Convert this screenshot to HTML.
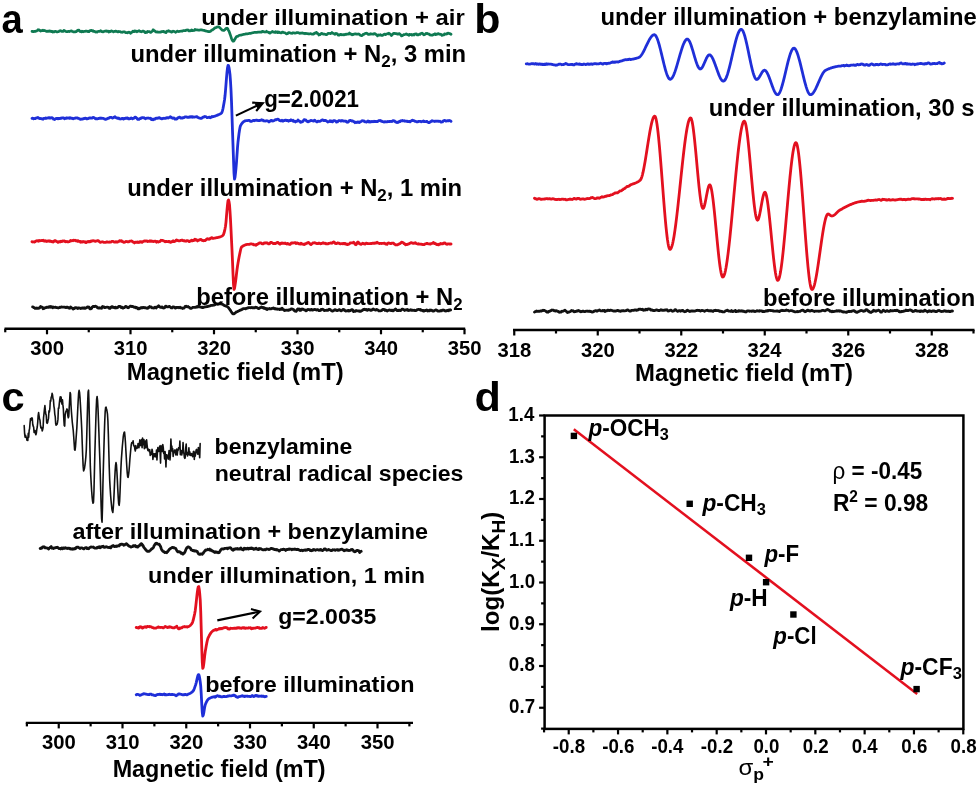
<!DOCTYPE html>
<html><head><meta charset="utf-8"><style>
html,body{margin:0;padding:0;background:#fff;}
svg{display:block;will-change:transform;}
text{font-family:"Liberation Sans",sans-serif;fill:#000;}
</style></head><body>
<svg width="980" height="787" viewBox="0 0 980 787">
<rect width="980" height="787" fill="#fff"/>
<text transform="translate(1.61,32.70) scale(0.9193,1)" fill="#000" xml:space="preserve"><tspan font-size="41.50" font-weight="bold">a</tspan></text>
<text transform="translate(474.25,33.00) scale(1.0347,1)" fill="#000" xml:space="preserve"><tspan font-size="41.50" font-weight="bold">b</tspan></text>
<text transform="translate(1.57,410.50) scale(1.0025,1)" fill="#000" xml:space="preserve"><tspan font-size="41.50" font-weight="bold">c</tspan></text>
<text transform="translate(474.48,410.50) scale(1.0395,1)" fill="#000" xml:space="preserve"><tspan font-size="41.50" font-weight="bold">d</tspan></text>
<line x1="4.50" y1="328.80" x2="465.20" y2="328.80" stroke="#000" stroke-width="2.4"/>
<line x1="5.25" y1="328.80" x2="5.25" y2="332.30" stroke="#000" stroke-width="2.2"/>
<line x1="47.00" y1="328.80" x2="47.00" y2="334.30" stroke="#000" stroke-width="2.2"/>
<line x1="88.75" y1="328.80" x2="88.75" y2="332.30" stroke="#000" stroke-width="2.2"/>
<line x1="130.50" y1="328.80" x2="130.50" y2="334.30" stroke="#000" stroke-width="2.2"/>
<line x1="172.25" y1="328.80" x2="172.25" y2="332.30" stroke="#000" stroke-width="2.2"/>
<line x1="214.00" y1="328.80" x2="214.00" y2="334.30" stroke="#000" stroke-width="2.2"/>
<line x1="255.75" y1="328.80" x2="255.75" y2="332.30" stroke="#000" stroke-width="2.2"/>
<line x1="297.50" y1="328.80" x2="297.50" y2="334.30" stroke="#000" stroke-width="2.2"/>
<line x1="339.25" y1="328.80" x2="339.25" y2="332.30" stroke="#000" stroke-width="2.2"/>
<line x1="381.00" y1="328.80" x2="381.00" y2="334.30" stroke="#000" stroke-width="2.2"/>
<line x1="422.75" y1="328.80" x2="422.75" y2="332.30" stroke="#000" stroke-width="2.2"/>
<line x1="464.50" y1="328.80" x2="464.50" y2="334.30" stroke="#000" stroke-width="2.2"/>
<text transform="translate(30.23,355.20) scale(0.9650,1)" fill="#000" xml:space="preserve"><tspan font-size="21.00" font-weight="bold">300</tspan></text>
<text transform="translate(113.73,355.20) scale(0.9650,1)" fill="#000" xml:space="preserve"><tspan font-size="21.00" font-weight="bold">310</tspan></text>
<text transform="translate(197.23,355.20) scale(0.9650,1)" fill="#000" xml:space="preserve"><tspan font-size="21.00" font-weight="bold">320</tspan></text>
<text transform="translate(280.73,355.20) scale(0.9650,1)" fill="#000" xml:space="preserve"><tspan font-size="21.00" font-weight="bold">330</tspan></text>
<text transform="translate(364.23,355.20) scale(0.9650,1)" fill="#000" xml:space="preserve"><tspan font-size="21.00" font-weight="bold">340</tspan></text>
<text transform="translate(447.73,355.20) scale(0.9650,1)" fill="#000" xml:space="preserve"><tspan font-size="21.00" font-weight="bold">350</tspan></text>
<text transform="translate(126.81,380.20) scale(0.9797,1)" fill="#000" xml:space="preserve"><tspan font-size="24.30" font-weight="bold">Magnetic field (mT)</tspan></text>
<path d="M32.00,31.36 L32.50,31.32 L33.00,31.68 L33.50,31.75 L34.00,31.43 L34.50,31.32 L35.00,31.46 L35.50,31.51 L36.00,31.07 L36.50,30.92 L37.00,30.67 L37.50,30.35 L38.00,29.70 L38.50,29.98 L39.00,29.77 L39.50,30.31 L40.00,30.67 L40.50,31.08 L41.00,30.50 L41.50,30.68 L42.00,30.60 L42.50,30.58 L43.00,30.24 L43.50,30.75 L44.00,30.63 L44.50,30.44 L45.00,30.67 L45.50,30.85 L46.00,30.96 L46.50,31.43 L47.00,31.48 L47.50,31.18 L48.00,31.41 L48.50,31.43 L49.00,30.89 L49.50,31.06 L50.00,31.43 L50.50,31.00 L51.00,31.20 L51.50,31.54 L52.00,31.36 L52.50,31.52 L53.00,32.10 L53.50,31.58 L54.00,31.56 L54.50,31.87 L55.00,31.31 L55.50,31.29 L56.00,31.58 L56.50,31.73 L57.00,31.94 L57.50,31.82 L58.00,31.70 L58.50,31.60 L59.00,31.46 L59.50,30.80 L60.00,30.82 L60.50,30.72 L61.00,31.06 L61.50,31.32 L62.00,31.29 L62.50,31.23 L63.00,31.45 L63.50,30.72 L64.00,30.31 L64.50,30.62 L65.00,31.14 L65.50,31.16 L66.00,31.58 L66.50,31.61 L67.00,31.57 L67.50,31.64 L68.00,31.36 L68.50,31.37 L69.00,31.55 L69.50,31.59 L70.00,31.16 L70.50,30.99 L71.00,31.06 L71.50,30.86 L72.00,31.19 L72.50,31.41 L73.00,31.69 L73.50,31.87 L74.00,31.90 L74.50,31.87 L75.00,31.71 L75.50,31.87 L76.00,31.38 L76.50,31.55 L77.00,30.87 L77.50,30.36 L78.00,30.14 L78.50,30.24 L79.00,30.20 L79.50,31.20 L80.00,31.51 L80.50,31.43 L81.00,31.71 L81.50,31.80 L82.00,31.19 L82.50,31.36 L83.00,31.70 L83.50,31.78 L84.00,31.40 L84.50,31.43 L85.00,31.50 L85.50,31.06 L86.00,31.00 L86.50,31.05 L87.00,31.32 L87.50,31.36 L88.00,31.66 L88.50,31.45 L89.00,31.64 L89.50,30.89 L90.00,30.56 L90.50,30.64 L91.00,30.25 L91.50,30.50 L92.00,30.57 L92.50,31.05 L93.00,30.75 L93.50,31.49 L94.00,31.31 L94.50,31.37 L95.00,31.50 L95.50,32.08 L96.00,31.87 L96.50,31.78 L97.00,32.13 L97.50,31.57 L98.00,31.49 L98.50,31.37 L99.00,31.43 L99.50,31.28 L100.00,31.37 L100.50,30.77 L101.00,31.23 L101.50,31.21 L102.00,31.66 L102.50,31.82 L103.00,31.98 L103.50,31.58 L104.00,31.48 L104.50,31.24 L105.00,31.15 L105.50,31.25 L106.00,30.99 L106.50,30.94 L107.00,31.36 L107.50,31.29 L108.00,31.10 L108.50,31.54 L109.00,32.10 L109.50,31.32 L110.00,31.45 L110.50,31.56 L111.00,31.03 L111.50,30.87 L112.00,31.23 L112.50,31.31 L113.00,31.28 L113.50,31.85 L114.00,31.53 L114.50,31.51 L115.00,31.22 L115.50,31.10 L116.00,31.33 L116.50,31.35 L117.00,31.46 L117.50,31.74 L118.00,31.94 L118.50,31.48 L119.00,31.77 L119.50,31.63 L120.00,31.60 L120.50,31.72 L121.00,32.15 L121.50,32.17 L122.00,32.35 L122.50,32.25 L123.00,31.90 L123.50,31.85 L124.00,31.93 L124.50,31.80 L125.00,32.08 L125.50,32.64 L126.00,32.61 L126.50,32.61 L127.00,32.53 L127.50,32.78 L128.00,32.27 L128.50,32.29 L129.00,32.18 L129.50,32.52 L130.00,32.62 L130.50,33.31 L131.00,32.81 L131.50,32.26 L132.00,32.25 L132.50,31.53 L133.00,31.15 L133.50,31.66 L134.00,31.67 L134.50,30.94 L135.00,31.26 L135.50,31.28 L136.00,31.01 L136.50,31.44 L137.00,31.76 L137.50,31.31 L138.00,31.26 L138.50,31.08 L139.00,30.66 L139.50,31.01 L140.00,31.38 L140.50,31.53 L141.00,31.53 L141.50,31.78 L142.00,31.40 L142.50,31.19 L143.00,31.14 L143.50,31.20 L144.00,31.45 L144.50,31.79 L145.00,32.53 L145.50,32.13 L146.00,32.56 L146.50,32.44 L147.00,32.36 L147.50,31.48 L148.00,31.71 L148.50,31.68 L149.00,31.68 L149.50,31.70 L150.00,32.00 L150.50,32.41 L151.00,32.21 L151.50,31.67 L152.00,31.48 L152.50,31.05 L153.00,29.93 L153.50,29.80 L154.00,30.69 L154.50,30.87 L155.00,31.06 L155.50,31.64 L156.00,32.05 L156.50,31.74 L157.00,31.73 L157.50,32.01 L158.00,32.24 L158.50,32.15 L159.00,32.24 L159.50,32.27 L160.00,32.01 L160.50,32.11 L161.00,31.72 L161.50,31.85 L162.00,31.45 L162.50,31.67 L163.00,31.52 L163.50,31.34 L164.00,31.49 L164.50,32.16 L165.00,32.06 L165.50,32.24 L166.00,32.65 L166.50,31.53 L167.00,31.21 L167.50,31.29 L168.00,31.10 L168.50,30.71 L169.00,31.28 L169.50,31.15 L170.00,31.45 L170.50,31.49 L171.00,31.74 L171.50,32.17 L172.00,32.05 L172.50,31.63 L173.00,31.06 L173.50,31.44 L174.00,31.27 L174.50,31.62 L175.00,31.86 L175.50,32.32 L176.00,31.96 L176.50,31.62 L177.00,31.32 L177.50,31.14 L178.00,31.46 L178.50,31.53 L179.00,31.55 L179.50,31.43 L180.00,31.23 L180.50,31.22 L181.00,31.19 L181.50,31.19 L182.00,31.22 L182.50,31.08 L183.00,30.63 L183.50,30.70 L184.00,30.55 L184.50,30.56 L185.00,30.75 L185.50,30.77 L186.00,30.12 L186.50,30.14 L187.00,29.95 L187.50,30.20 L188.00,29.96 L188.50,30.48 L189.00,30.90 L189.50,31.01 L190.00,30.61 L190.50,30.82 L191.00,30.64 L191.50,29.97 L192.00,30.12 L192.50,30.74 L193.00,30.58 L193.50,30.48 L194.00,30.42 L194.50,30.34 L195.00,29.47 L195.50,29.79 L196.00,29.86 L196.50,29.83 L197.00,29.85 L197.50,30.03 L198.00,30.10 L198.50,30.02 L199.00,30.22 L199.50,30.11 L200.00,29.95 L200.50,29.84 L201.00,29.84 L201.50,29.87 L202.00,30.05 L202.50,30.12 L203.00,30.28 L203.50,30.36 L204.00,30.41 L204.50,30.45 L205.00,30.68 L205.50,30.90 L206.00,31.05 L206.50,31.14 L207.00,31.28 L207.50,31.35 L208.00,31.44 L208.50,31.66 L209.00,31.73 L209.50,31.71 L210.00,31.49 L210.50,31.31 L211.00,30.78 L211.50,30.34 L212.00,30.07 L212.50,29.88 L213.00,29.45 L213.50,29.07 L214.00,28.75 L214.50,28.25 L215.00,27.87 L215.50,27.72 L216.00,27.58 L216.50,27.31 L217.00,27.10 L217.50,26.95 L218.00,26.76 L218.50,26.78 L219.00,27.08 L219.50,27.40 L220.00,27.87 L220.50,28.39 L221.00,29.00 L221.50,29.39 L222.00,29.92 L222.50,30.17 L223.00,30.33 L223.50,30.39 L224.00,30.37 L224.50,29.99 L225.00,29.60 L225.50,29.05 L226.00,28.55 L226.50,28.34 L227.00,28.22 L227.50,28.49 L228.00,29.31 L228.50,30.32 L229.00,31.24 L229.50,32.50 L230.00,33.94 L230.50,35.40 L231.00,36.91 L231.50,38.52 L232.00,39.77 L232.50,40.55 L233.00,41.17 L233.50,41.16 L234.00,40.69 L234.50,39.86 L235.00,39.09 L235.50,38.00 L236.00,37.35 L236.50,36.67 L237.00,36.55 L237.50,36.30 L238.00,36.19 L238.50,35.70 L239.00,35.52 L239.50,35.33 L240.00,35.16 L240.50,35.11 L241.00,35.15 L241.50,34.99 L242.00,34.78 L242.50,34.74 L243.00,34.55 L243.50,34.39 L244.00,34.31 L244.50,34.24 L245.00,34.12 L245.50,33.95 L246.00,33.92 L246.50,33.97 L247.00,33.80 L247.50,33.80 L248.00,33.77 L248.50,33.61 L249.00,33.50 L249.50,33.47 L250.00,33.46 L250.50,33.31 L251.00,33.28 L251.50,33.07 L252.00,32.92 L252.50,32.73 L253.00,32.67 L253.50,32.59 L254.00,32.52 L254.50,32.43 L255.00,32.34 L255.50,32.34 L256.00,32.35 L256.50,32.27 L257.00,32.34 L257.50,32.20 L258.00,32.24 L258.50,32.08 L259.00,32.00 L259.50,32.00 L260.00,32.21 L260.50,32.05 L261.00,32.05 L261.50,32.13 L262.00,31.45 L262.50,31.27 L263.00,31.46 L263.50,31.56 L264.00,31.90 L264.50,32.01 L265.00,32.03 L265.50,32.00 L266.00,31.88 L266.50,31.28 L267.00,31.95 L267.50,31.78 L268.00,32.10 L268.50,32.41 L269.00,32.93 L269.50,32.49 L270.00,33.06 L270.50,32.76 L271.00,32.39 L271.50,32.11 L272.00,31.78 L272.50,31.50 L273.00,31.99 L273.50,32.16 L274.00,32.08 L274.50,32.35 L275.00,32.53 L275.50,31.64 L276.00,32.03 L276.50,32.13 L277.00,32.51 L277.50,31.90 L278.00,32.57 L278.50,32.08 L279.00,32.12 L279.50,32.23 L280.00,32.73 L280.50,32.73 L281.00,32.91 L281.50,32.70 L282.00,32.27 L282.50,32.08 L283.00,32.19 L283.50,32.40 L284.00,32.62 L284.50,32.73 L285.00,32.75 L285.50,33.12 L286.00,33.63 L286.50,33.91 L287.00,33.75 L287.50,33.76 L288.00,33.31 L288.50,32.67 L289.00,32.71 L289.50,32.66 L290.00,32.85 L290.50,32.99 L291.00,33.26 L291.50,33.25 L292.00,33.35 L292.50,32.97 L293.00,32.96 L293.50,32.77 L294.00,32.89 L294.50,33.09 L295.00,33.00 L295.50,33.09 L296.00,32.91 L296.50,32.71 L297.00,32.64 L297.50,32.48 L298.00,32.49 L298.50,32.88 L299.00,33.01 L299.50,32.98 L300.00,33.42 L300.50,33.16 L301.00,33.06 L301.50,32.97 L302.00,33.10 L302.50,32.90 L303.00,33.21 L303.50,33.33 L304.00,33.44 L304.50,33.31 L305.00,33.76 L305.50,33.29 L306.00,33.37 L306.50,33.48 L307.00,33.67 L307.50,33.63 L308.00,33.89 L308.50,33.72 L309.00,33.82 L309.50,33.87 L310.00,33.83 L310.50,33.62 L311.00,33.82 L311.50,33.97 L312.00,34.12 L312.50,34.13 L313.00,34.13 L313.50,34.23 L314.00,33.91 L314.50,33.02 L315.00,33.06 L315.50,33.08 L316.00,32.52 L316.50,32.40 L317.00,33.37 L317.50,33.19 L318.00,33.64 L318.50,34.42 L319.00,34.98 L319.50,34.64 L320.00,34.68 L320.50,34.30 L321.00,33.69 L321.50,33.40 L322.00,33.53 L322.50,33.62 L323.00,34.20 L323.50,34.18 L324.00,34.07 L324.50,34.16 L325.00,34.28 L325.50,34.30 L326.00,34.61 L326.50,34.55 L327.00,34.46 L327.50,34.06 L328.00,33.38 L328.50,33.43 L329.00,33.50 L329.50,33.49 L330.00,33.32 L330.50,33.65 L331.00,33.35 L331.50,33.15 L332.00,32.51 L332.50,32.86 L333.00,33.18 L333.50,33.44 L334.00,33.51 L334.50,34.08 L335.00,34.36 L335.50,33.44 L336.00,33.31 L336.50,33.61 L337.00,33.79 L337.50,34.03 L338.00,35.02 L338.50,35.13 L339.00,35.08 L339.50,35.11 L340.00,34.55 L340.50,34.25 L341.00,34.41 L341.50,34.83 L342.00,34.59 L342.50,34.72 L343.00,34.79 L343.50,34.90 L344.00,34.40 L344.50,34.82 L345.00,34.59 L345.50,34.50 L346.00,34.11 L346.50,34.32 L347.00,34.22 L347.50,34.08 L348.00,33.90 L348.50,34.04 L349.00,33.68 L349.50,33.03 L350.00,33.68 L350.50,34.04 L351.00,34.08 L351.50,34.13 L352.00,34.78 L352.50,34.46 L353.00,34.62 L353.50,34.27 L354.00,34.17 L354.50,33.97 L355.00,33.85 L355.50,33.75 L356.00,34.05 L356.50,34.04 L357.00,34.01 L357.50,34.10 L358.00,34.16 L358.50,33.94 L359.00,34.07 L359.50,34.36 L360.00,35.01 L360.50,35.29 L361.00,35.47 L361.50,35.64 L362.00,35.72 L362.50,35.13 L363.00,34.38 L363.50,34.40 L364.00,34.46 L364.50,33.87 L365.00,33.48 L365.50,33.37 L366.00,33.51 L366.50,33.21 L367.00,33.39 L367.50,33.86 L368.00,34.38 L368.50,34.13 L369.00,34.45 L369.50,34.27 L370.00,34.12 L370.50,33.71 L371.00,34.09 L371.50,33.96 L372.00,34.00 L372.50,34.00 L373.00,34.21 L373.50,34.10 L374.00,33.71 L374.50,33.64 L375.00,33.63 L375.50,34.33 L376.00,34.40 L376.50,34.78 L377.00,35.22 L377.50,35.84 L378.00,35.14 L378.50,34.81 L379.00,35.15 L379.50,35.10 L380.00,34.75 L380.50,34.68 L381.00,35.26 L381.50,35.39 L382.00,35.41 L382.50,35.42 L383.00,35.04 L383.50,34.72 L384.00,34.24 L384.50,34.21 L385.00,34.21 L385.50,34.64 L386.00,34.05 L386.50,34.20 L387.00,33.90 L387.50,33.65 L388.00,33.59 L388.50,33.93 L389.00,33.26 L389.50,33.75 L390.00,33.90 L390.50,34.34 L391.00,34.93 L391.50,35.52 L392.00,34.76 L392.50,34.47 L393.00,33.89 L393.50,33.27 L394.00,33.28 L394.50,33.24 L395.00,33.55 L395.50,33.48 L396.00,33.68 L396.50,33.64 L397.00,34.07 L397.50,33.96 L398.00,34.21 L398.50,33.98 L399.00,33.59 L399.50,33.66 L400.00,34.15 L400.50,34.79 L401.00,35.28 L401.50,35.89 L402.00,35.73 L402.50,35.63 L403.00,35.11 L403.50,34.77 L404.00,34.52 L404.50,34.71 L405.00,34.24 L405.50,34.24 L406.00,33.98 L406.50,33.96 L407.00,34.52 L407.50,34.61 L408.00,34.58 L408.50,34.99 L409.00,35.26 L409.50,34.41 L410.00,34.38 L410.50,34.67 L411.00,34.61 L411.50,34.46 L412.00,35.14 L412.50,35.02 L413.00,34.81 L413.50,34.61 L414.00,34.96 L414.50,34.08 L415.00,34.08 L415.50,33.93 L416.00,34.23 L416.50,34.01 L417.00,34.86 L417.50,34.63 L418.00,34.96 L418.50,34.72 L419.00,34.40 L419.50,34.18 L420.00,34.35 L420.50,33.64 L421.00,33.62 L421.50,33.41 L422.00,33.12 L422.50,33.44 L423.00,34.05 L423.50,34.55 L424.00,34.88 L424.50,34.65 L425.00,34.37 L425.50,34.06 L426.00,33.36 L426.50,33.52 L427.00,33.74 L427.50,33.44 L428.00,33.85 L428.50,34.13 L429.00,34.11 L429.50,34.30 L430.00,34.96 L430.50,34.80 L431.00,35.14 L431.50,35.16 L432.00,35.23 L432.50,35.18 L433.00,34.80 L433.50,34.45 L434.00,34.28 L434.50,34.24 L435.00,33.79 L435.50,34.57 L436.00,34.64 L436.50,34.40 L437.00,33.92 L437.50,34.20 L438.00,33.76 L438.50,33.55 L439.00,33.89 L439.50,34.16 L440.00,34.37 L440.50,34.21 L441.00,34.38 L441.50,34.61 L442.00,35.42 L442.50,35.03 L443.00,35.10 L443.50,34.90 L444.00,34.85 L444.50,33.91 L445.00,34.04 L445.50,34.15 L446.00,34.12 L446.50,33.68 L447.00,33.85 L447.50,33.44 L448.00,33.09 L448.50,33.23 L449.00,33.51 L449.50,33.59 L450.00,33.67 L450.50,33.92 L451.00,34.23" fill="none" stroke="#0f7a52" stroke-width="2.7" stroke-linejoin="round" stroke-linecap="round"/>
<path d="M32.00,118.28 L32.50,118.20 L33.00,118.50 L33.50,118.79 L34.00,118.46 L34.50,118.58 L35.00,118.69 L35.50,118.41 L36.00,118.12 L36.50,117.84 L37.00,117.80 L37.50,117.73 L38.00,117.49 L38.50,117.90 L39.00,118.37 L39.50,118.62 L40.00,118.37 L40.50,118.54 L41.00,118.72 L41.50,118.83 L42.00,118.70 L42.50,118.99 L43.00,119.20 L43.50,118.52 L44.00,118.32 L44.50,118.37 L45.00,118.50 L45.50,118.00 L46.00,118.28 L46.50,118.25 L47.00,118.17 L47.50,117.98 L48.00,117.82 L48.50,117.75 L49.00,118.01 L49.50,117.77 L50.00,117.74 L50.50,118.16 L51.00,117.92 L51.50,117.76 L52.00,117.75 L52.50,118.06 L53.00,118.44 L53.50,119.14 L54.00,119.05 L54.50,119.46 L55.00,119.23 L55.50,118.73 L56.00,118.63 L56.50,118.38 L57.00,118.46 L57.50,118.42 L58.00,118.72 L58.50,118.41 L59.00,118.56 L59.50,118.39 L60.00,118.57 L60.50,118.26 L61.00,118.33 L61.50,118.36 L62.00,117.82 L62.50,117.86 L63.00,118.01 L63.50,117.94 L64.00,118.07 L64.50,118.79 L65.00,118.49 L65.50,118.17 L66.00,118.10 L66.50,118.35 L67.00,117.81 L67.50,118.18 L68.00,118.20 L68.50,118.00 L69.00,118.01 L69.50,118.31 L70.00,117.75 L70.50,117.81 L71.00,118.27 L71.50,118.26 L72.00,118.19 L72.50,118.58 L73.00,118.82 L73.50,118.47 L74.00,118.28 L74.50,118.37 L75.00,118.16 L75.50,117.89 L76.00,118.05 L76.50,117.98 L77.00,117.86 L77.50,117.89 L78.00,118.26 L78.50,118.29 L79.00,118.49 L79.50,118.89 L80.00,119.12 L80.50,119.39 L81.00,119.15 L81.50,119.14 L82.00,118.80 L82.50,119.09 L83.00,118.96 L83.50,118.70 L84.00,118.30 L84.50,118.53 L85.00,118.29 L85.50,118.07 L86.00,118.50 L86.50,118.83 L87.00,118.83 L87.50,118.63 L88.00,118.70 L88.50,118.21 L89.00,118.25 L89.50,117.87 L90.00,118.10 L90.50,117.82 L91.00,118.14 L91.50,118.08 L92.00,118.11 L92.50,117.69 L93.00,117.38 L93.50,117.58 L94.00,117.61 L94.50,118.05 L95.00,118.23 L95.50,118.83 L96.00,118.84 L96.50,118.71 L97.00,118.61 L97.50,118.88 L98.00,118.57 L98.50,118.51 L99.00,118.50 L99.50,118.39 L100.00,117.95 L100.50,118.26 L101.00,118.22 L101.50,118.37 L102.00,118.16 L102.50,118.45 L103.00,118.31 L103.50,118.31 L104.00,118.66 L104.50,118.94 L105.00,119.26 L105.50,119.39 L106.00,119.34 L106.50,118.80 L107.00,118.82 L107.50,118.43 L108.00,118.22 L108.50,118.31 L109.00,117.99 L109.50,117.84 L110.00,117.33 L110.50,117.40 L111.00,117.31 L111.50,117.56 L112.00,117.56 L112.50,118.13 L113.00,117.72 L113.50,117.49 L114.00,117.42 L114.50,117.01 L115.00,116.73 L115.50,117.42 L116.00,117.58 L116.50,117.97 L117.00,118.12 L117.50,118.41 L118.00,117.98 L118.50,118.21 L119.00,118.19 L119.50,118.91 L120.00,118.89 L120.50,118.99 L121.00,118.78 L121.50,118.79 L122.00,118.34 L122.50,118.49 L123.00,118.45 L123.50,119.07 L124.00,118.49 L124.50,118.48 L125.00,118.49 L125.50,118.43 L126.00,117.85 L126.50,118.25 L127.00,118.00 L127.50,117.83 L128.00,118.47 L128.50,118.91 L129.00,118.72 L129.50,118.84 L130.00,118.72 L130.50,118.40 L131.00,117.95 L131.50,118.05 L132.00,118.45 L132.50,118.74 L133.00,118.43 L133.50,118.37 L134.00,118.17 L134.50,117.82 L135.00,117.12 L135.50,117.37 L136.00,117.48 L136.50,117.95 L137.00,118.53 L137.50,119.31 L138.00,118.88 L138.50,119.22 L139.00,119.37 L139.50,118.78 L140.00,118.30 L140.50,118.54 L141.00,117.98 L141.50,118.05 L142.00,117.67 L142.50,117.64 L143.00,117.61 L143.50,117.92 L144.00,117.62 L144.50,118.23 L145.00,118.43 L145.50,118.75 L146.00,118.32 L146.50,118.28 L147.00,118.06 L147.50,118.14 L148.00,117.93 L148.50,118.21 L149.00,118.07 L149.50,118.41 L150.00,118.46 L150.50,118.25 L151.00,118.92 L151.50,119.59 L152.00,119.07 L152.50,119.06 L153.00,119.78 L153.50,119.49 L154.00,119.01 L154.50,119.29 L155.00,119.09 L155.50,118.47 L156.00,118.16 L156.50,118.27 L157.00,118.22 L157.50,118.23 L158.00,117.99 L158.50,118.10 L159.00,117.72 L159.50,117.75 L160.00,118.08 L160.50,118.42 L161.00,118.54 L161.50,118.81 L162.00,118.85 L162.50,118.57 L163.00,118.40 L163.50,118.45 L164.00,118.10 L164.50,118.38 L165.00,118.40 L165.50,118.29 L166.00,117.99 L166.50,118.06 L167.00,117.78 L167.50,117.59 L168.00,118.01 L168.50,117.92 L169.00,117.54 L169.50,117.32 L170.00,117.02 L170.50,116.73 L171.00,117.13 L171.50,117.78 L172.00,117.62 L172.50,117.89 L173.00,118.28 L173.50,118.10 L174.00,117.93 L174.50,118.46 L175.00,119.17 L175.50,119.05 L176.00,118.99 L176.50,119.05 L177.00,118.93 L177.50,118.22 L178.00,117.67 L178.50,117.64 L179.00,117.32 L179.50,117.16 L180.00,117.30 L180.50,118.06 L181.00,117.84 L181.50,118.01 L182.00,117.97 L182.50,118.03 L183.00,117.73 L183.50,117.80 L184.00,117.62 L184.50,117.28 L185.00,116.95 L185.50,116.83 L186.00,116.94 L186.50,116.88 L187.00,117.16 L187.50,117.37 L188.00,117.35 L188.50,117.20 L189.00,117.36 L189.50,117.02 L190.00,116.75 L190.50,116.99 L191.00,116.63 L191.50,116.60 L192.00,117.06 L192.50,117.23 L193.00,116.67 L193.50,117.15 L194.00,117.22 L194.50,117.15 L195.00,116.81 L195.50,116.95 L196.00,116.77 L196.50,116.64 L197.00,116.71 L197.50,117.28 L198.00,117.51 L198.50,117.59 L199.00,117.92 L199.50,118.13 L200.00,118.24 L200.50,118.35 L201.00,118.43 L201.50,118.17 L202.00,118.09 L202.50,117.52 L203.00,117.24 L203.50,117.15 L204.00,117.10 L204.50,116.51 L205.00,116.62 L205.50,116.56 L206.00,116.87 L206.50,117.17 L207.00,117.54 L207.50,117.69 L208.00,117.50 L208.50,117.38 L209.00,117.09 L209.50,117.22 L210.00,117.62 L210.50,117.75 L211.00,117.24 L211.50,117.02 L212.00,116.45 L212.50,116.81 L213.00,116.68 L213.50,116.54 L214.00,116.39 L214.50,116.23 L215.00,116.06 L215.50,115.89 L216.00,115.70 L216.50,115.51 L217.00,115.32 L217.50,115.12 L218.00,114.91 L218.50,114.71 L219.00,114.50 L219.50,114.29 L220.00,114.07 L220.50,113.80 L221.00,113.45 L221.50,113.00 L222.00,112.20 L222.50,110.63 L223.00,108.47 L223.50,105.86 L224.00,102.98 L224.50,100.00 L225.00,96.04 L225.50,90.58 L226.00,84.32 L226.50,77.97 L227.00,72.24 L227.50,67.83 L228.00,65.43 L228.50,65.58 L229.00,67.56 L229.50,70.63 L230.00,74.70 L230.50,81.47 L231.00,90.00 L231.50,101.33 L232.00,115.79 L232.50,131.11 L233.00,145.00 L233.50,159.38 L234.00,173.09 L234.50,179.20 L235.00,177.34 L235.50,172.98 L236.00,168.00 L236.50,162.12 L237.00,154.82 L237.50,147.62 L238.00,142.00 L238.50,137.72 L239.00,133.70 L239.50,130.20 L240.00,127.45 L240.50,125.71 L241.00,124.81 L241.50,124.02 L242.00,123.33 L242.50,122.72 L243.00,122.19 L243.50,121.75 L244.00,121.39 L244.50,121.12 L245.00,120.92 L245.50,120.80 L246.00,120.72 L246.50,120.65 L247.00,120.59 L247.50,120.53 L248.00,120.49 L248.50,120.45 L249.00,120.42 L249.50,120.41 L250.00,120.66 L250.50,121.37 L251.00,121.24 L251.50,121.41 L252.00,121.08 L252.50,120.97 L253.00,120.62 L253.50,120.28 L254.00,120.29 L254.50,120.71 L255.00,120.30 L255.50,120.33 L256.00,120.24 L256.50,120.30 L257.00,120.12 L257.50,120.50 L258.00,120.62 L258.50,120.47 L259.00,120.68 L259.50,120.36 L260.00,120.52 L260.50,120.39 L261.00,120.17 L261.50,119.75 L262.00,119.94 L262.50,120.16 L263.00,120.19 L263.50,120.84 L264.00,120.70 L264.50,120.98 L265.00,121.04 L265.50,120.99 L266.00,120.88 L266.50,120.84 L267.00,120.73 L267.50,120.93 L268.00,121.10 L268.50,121.44 L269.00,121.94 L269.50,121.52 L270.00,121.22 L270.50,120.78 L271.00,120.45 L271.50,120.40 L272.00,120.83 L272.50,120.63 L273.00,121.00 L273.50,120.88 L274.00,120.54 L274.50,120.36 L275.00,120.11 L275.50,119.73 L276.00,119.62 L276.50,119.81 L277.00,119.38 L277.50,119.24 L278.00,119.18 L278.50,119.51 L279.00,119.72 L279.50,120.60 L280.00,120.58 L280.50,120.80 L281.00,120.97 L281.50,120.84 L282.00,120.31 L282.50,121.05 L283.00,121.13 L283.50,120.66 L284.00,120.42 L284.50,120.58 L285.00,120.26 L285.50,120.03 L286.00,120.08 L286.50,120.50 L287.00,120.56 L287.50,120.35 L288.00,120.81 L288.50,121.17 L289.00,120.64 L289.50,120.45 L290.00,120.69 L290.50,120.42 L291.00,119.81 L291.50,120.15 L292.00,120.40 L292.50,120.67 L293.00,120.30 L293.50,121.39 L294.00,121.20 L294.50,121.25 L295.00,121.17 L295.50,121.90 L296.00,121.34 L296.50,121.34 L297.00,121.27 L297.50,120.83 L298.00,120.03 L298.50,120.65 L299.00,121.07 L299.50,121.35 L300.00,121.31 L300.50,122.22 L301.00,121.94 L301.50,122.13 L302.00,121.72 L302.50,121.66 L303.00,121.29 L303.50,120.43 L304.00,119.70 L304.50,119.72 L305.00,119.78 L305.50,119.78 L306.00,120.26 L306.50,121.09 L307.00,121.37 L307.50,121.58 L308.00,121.90 L308.50,121.75 L309.00,121.24 L309.50,121.15 L310.00,120.89 L310.50,120.55 L311.00,120.43 L311.50,120.54 L312.00,120.71 L312.50,120.82 L313.00,120.94 L313.50,121.04 L314.00,120.76 L314.50,120.11 L315.00,120.61 L315.50,121.10 L316.00,121.42 L316.50,121.52 L317.00,121.96 L317.50,121.56 L318.00,121.21 L318.50,121.17 L319.00,121.40 L319.50,121.38 L320.00,121.33 L320.50,121.06 L321.00,120.60 L321.50,120.44 L322.00,119.99 L322.50,120.09 L323.00,119.97 L323.50,120.38 L324.00,120.59 L324.50,120.59 L325.00,120.45 L325.50,120.45 L326.00,120.60 L326.50,120.89 L327.00,121.41 L327.50,121.52 L328.00,122.07 L328.50,121.56 L329.00,121.51 L329.50,121.18 L330.00,120.63 L330.50,120.90 L331.00,121.60 L331.50,121.03 L332.00,121.22 L332.50,121.81 L333.00,121.23 L333.50,120.54 L334.00,120.63 L334.50,120.70 L335.00,120.80 L335.50,121.05 L336.00,121.41 L336.50,122.10 L337.00,121.83 L337.50,121.85 L338.00,121.14 L338.50,120.84 L339.00,120.61 L339.50,120.57 L340.00,120.63 L340.50,121.06 L341.00,121.11 L341.50,120.73 L342.00,120.83 L342.50,120.60 L343.00,120.79 L343.50,121.18 L344.00,121.13 L344.50,121.04 L345.00,121.22 L345.50,121.03 L346.00,121.12 L346.50,121.86 L347.00,122.26 L347.50,122.19 L348.00,122.17 L348.50,121.75 L349.00,120.94 L349.50,120.53 L350.00,120.45 L350.50,120.39 L351.00,120.76 L351.50,120.88 L352.00,121.06 L352.50,120.88 L353.00,121.35 L353.50,121.30 L354.00,121.80 L354.50,122.03 L355.00,122.65 L355.50,122.22 L356.00,122.27 L356.50,122.48 L357.00,122.03 L357.50,121.96 L358.00,122.40 L358.50,122.34 L359.00,121.90 L359.50,122.47 L360.00,122.06 L360.50,121.77 L361.00,121.48 L361.50,121.15 L362.00,120.72 L362.50,120.84 L363.00,120.78 L363.50,121.09 L364.00,120.92 L364.50,121.53 L365.00,121.83 L365.50,121.97 L366.00,121.78 L366.50,122.10 L367.00,121.77 L367.50,121.60 L368.00,121.04 L368.50,121.30 L369.00,122.00 L369.50,121.44 L370.00,121.58 L370.50,122.06 L371.00,121.87 L371.50,121.51 L372.00,121.67 L372.50,121.48 L373.00,121.73 L373.50,121.72 L374.00,121.30 L374.50,121.61 L375.00,121.47 L375.50,121.49 L376.00,121.33 L376.50,121.63 L377.00,121.32 L377.50,121.58 L378.00,121.20 L378.50,120.81 L379.00,120.60 L379.50,120.65 L380.00,120.39 L380.50,120.78 L381.00,121.12 L381.50,120.88 L382.00,121.47 L382.50,121.60 L383.00,121.60 L383.50,121.94 L384.00,121.99 L384.50,121.64 L385.00,121.90 L385.50,121.76 L386.00,121.69 L386.50,121.91 L387.00,121.90 L387.50,121.48 L388.00,121.71 L388.50,121.72 L389.00,121.45 L389.50,121.36 L390.00,121.67 L390.50,121.37 L391.00,121.34 L391.50,121.45 L392.00,121.57 L392.50,121.01 L393.00,120.56 L393.50,120.78 L394.00,120.83 L394.50,120.91 L395.00,121.59 L395.50,122.05 L396.00,121.87 L396.50,122.48 L397.00,122.55 L397.50,122.18 L398.00,122.20 L398.50,122.30 L399.00,121.60 L399.50,121.46 L400.00,121.51 L400.50,120.88 L401.00,120.75 L401.50,120.89 L402.00,120.77 L402.50,120.43 L403.00,120.80 L403.50,120.84 L404.00,120.93 L404.50,120.77 L405.00,121.30 L405.50,121.10 L406.00,121.06 L406.50,121.34 L407.00,121.45 L407.50,121.18 L408.00,121.72 L408.50,121.68 L409.00,121.31 L409.50,121.53 L410.00,121.89 L410.50,121.13 L411.00,121.03 L411.50,120.86 L412.00,120.56 L412.50,120.12 L413.00,120.44 L413.50,120.70 L414.00,120.73 L414.50,121.02 L415.00,121.31 L415.50,121.34 L416.00,121.30 L416.50,121.89 L417.00,121.94 L417.50,121.70 L418.00,121.85 L418.50,121.61 L419.00,121.30 L419.50,121.42 L420.00,121.38 L420.50,121.35 L421.00,121.82 L421.50,121.65 L422.00,121.49 L422.50,121.45 L423.00,121.31 L423.50,120.93 L424.00,121.54 L424.50,121.41 L425.00,121.52 L425.50,121.59 L426.00,121.67 L426.50,121.33 L427.00,121.46 L427.50,122.05 L428.00,122.23 L428.50,122.60 L429.00,122.51 L429.50,122.61 L430.00,121.81 L430.50,121.74 L431.00,121.40 L431.50,121.28 L432.00,120.65 L432.50,121.18 L433.00,121.12 L433.50,121.04 L434.00,121.04 L434.50,121.48 L435.00,121.37 L435.50,121.17 L436.00,121.06 L436.50,121.19 L437.00,121.27 L437.50,121.09 L438.00,121.25 L438.50,121.28 L439.00,121.20 L439.50,121.43 L440.00,121.28 L440.50,121.76 L441.00,122.14 L441.50,122.05 L442.00,121.96 L442.50,121.87 L443.00,121.13 L443.50,120.65 L444.00,120.66 L444.50,120.41 L445.00,120.62 L445.50,121.04 L446.00,120.85 L446.50,121.05 L447.00,120.81 L447.50,120.77 L448.00,120.66 L448.50,120.88 L449.00,120.46 L449.50,120.55 L450.00,120.70 L450.50,120.93 L451.00,121.32" fill="none" stroke="#1f2fd8" stroke-width="2.8" stroke-linejoin="round" stroke-linecap="round"/>
<path d="M32.00,241.71 L32.50,241.94 L33.00,242.00 L33.50,241.89 L34.00,242.00 L34.50,242.01 L35.00,241.73 L35.50,241.21 L36.00,241.16 L36.50,241.01 L37.00,240.65 L37.50,240.79 L38.00,241.11 L38.50,241.26 L39.00,240.53 L39.50,240.83 L40.00,240.84 L40.50,240.57 L41.00,240.53 L41.50,240.49 L42.00,240.69 L42.50,240.37 L43.00,240.78 L43.50,240.31 L44.00,241.07 L44.50,240.85 L45.00,241.22 L45.50,240.78 L46.00,241.09 L46.50,241.47 L47.00,241.33 L47.50,240.97 L48.00,241.13 L48.50,241.04 L49.00,240.78 L49.50,241.42 L50.00,241.42 L50.50,241.07 L51.00,241.62 L51.50,241.60 L52.00,241.39 L52.50,241.85 L53.00,242.06 L53.50,241.74 L54.00,241.13 L54.50,240.58 L55.00,240.55 L55.50,240.60 L56.00,241.21 L56.50,241.57 L57.00,241.77 L57.50,241.73 L58.00,242.34 L58.50,241.90 L59.00,241.59 L59.50,241.84 L60.00,241.99 L60.50,241.43 L61.00,241.12 L61.50,241.68 L62.00,241.63 L62.50,241.02 L63.00,241.05 L63.50,241.06 L64.00,240.89 L64.50,240.89 L65.00,241.44 L65.50,241.72 L66.00,241.52 L66.50,241.55 L67.00,241.75 L67.50,241.58 L68.00,241.67 L68.50,241.92 L69.00,241.59 L69.50,241.60 L70.00,241.23 L70.50,240.45 L71.00,240.84 L71.50,240.90 L72.00,240.60 L72.50,240.52 L73.00,240.73 L73.50,240.20 L74.00,240.29 L74.50,240.46 L75.00,240.24 L75.50,240.75 L76.00,240.75 L76.50,240.58 L77.00,240.66 L77.50,241.21 L78.00,240.65 L78.50,241.40 L79.00,241.45 L79.50,241.35 L80.00,241.42 L80.50,242.15 L81.00,241.58 L81.50,242.05 L82.00,241.80 L82.50,242.03 L83.00,241.50 L83.50,241.53 L84.00,241.75 L84.50,242.01 L85.00,241.76 L85.50,242.50 L86.00,242.68 L86.50,242.02 L87.00,242.12 L87.50,241.81 L88.00,241.53 L88.50,241.74 L89.00,241.81 L89.50,241.47 L90.00,241.81 L90.50,241.53 L91.00,241.00 L91.50,241.28 L92.00,240.93 L92.50,240.79 L93.00,240.68 L93.50,240.86 L94.00,240.79 L94.50,241.00 L95.00,241.25 L95.50,241.30 L96.00,241.21 L96.50,240.80 L97.00,240.81 L97.50,240.76 L98.00,240.56 L98.50,240.74 L99.00,241.34 L99.50,241.88 L100.00,242.18 L100.50,242.34 L101.00,242.06 L101.50,242.05 L102.00,241.87 L102.50,241.76 L103.00,241.84 L103.50,242.40 L104.00,242.36 L104.50,242.46 L105.00,242.31 L105.50,242.40 L106.00,242.16 L106.50,242.01 L107.00,242.08 L107.50,241.83 L108.00,242.16 L108.50,242.07 L109.00,242.26 L109.50,242.00 L110.00,242.06 L110.50,242.13 L111.00,242.08 L111.50,241.53 L112.00,241.37 L112.50,241.36 L113.00,241.39 L113.50,241.51 L114.00,242.06 L114.50,241.99 L115.00,242.15 L115.50,241.79 L116.00,242.18 L116.50,241.78 L117.00,242.17 L117.50,242.16 L118.00,241.74 L118.50,241.30 L119.00,241.40 L119.50,240.68 L120.00,240.75 L120.50,241.14 L121.00,241.04 L121.50,240.77 L122.00,241.71 L122.50,241.63 L123.00,241.74 L123.50,242.20 L124.00,242.40 L124.50,242.23 L125.00,242.11 L125.50,241.84 L126.00,241.48 L126.50,241.60 L127.00,241.68 L127.50,241.77 L128.00,241.75 L128.50,241.70 L129.00,241.78 L129.50,241.29 L130.00,241.13 L130.50,241.16 L131.00,241.09 L131.50,240.97 L132.00,241.04 L132.50,241.66 L133.00,242.00 L133.50,242.25 L134.00,242.27 L134.50,242.96 L135.00,242.54 L135.50,242.20 L136.00,242.16 L136.50,242.25 L137.00,242.06 L137.50,241.97 L138.00,242.51 L138.50,242.22 L139.00,242.31 L139.50,241.72 L140.00,242.17 L140.50,241.57 L141.00,241.78 L141.50,241.83 L142.00,242.39 L142.50,241.67 L143.00,241.66 L143.50,241.33 L144.00,241.14 L144.50,240.81 L145.00,240.99 L145.50,240.91 L146.00,241.16 L146.50,240.94 L147.00,241.10 L147.50,241.56 L148.00,241.25 L148.50,241.32 L149.00,241.40 L149.50,241.39 L150.00,240.78 L150.50,241.22 L151.00,240.99 L151.50,241.27 L152.00,241.17 L152.50,241.36 L153.00,241.49 L153.50,241.68 L154.00,241.12 L154.50,241.24 L155.00,241.35 L155.50,241.22 L156.00,241.52 L156.50,242.20 L157.00,241.78 L157.50,241.51 L158.00,241.92 L158.50,242.03 L159.00,241.54 L159.50,241.51 L160.00,241.54 L160.50,241.03 L161.00,240.29 L161.50,240.47 L162.00,240.44 L162.50,240.29 L163.00,240.63 L163.50,240.85 L164.00,240.81 L164.50,241.28 L165.00,241.77 L165.50,241.45 L166.00,241.62 L166.50,241.43 L167.00,241.69 L167.50,241.64 L168.00,241.44 L168.50,241.43 L169.00,241.79 L169.50,241.47 L170.00,241.75 L170.50,242.35 L171.00,242.21 L171.50,242.00 L172.00,241.55 L172.50,241.15 L173.00,240.84 L173.50,241.63 L174.00,241.66 L174.50,241.45 L175.00,241.21 L175.50,241.19 L176.00,240.20 L176.50,239.95 L177.00,240.36 L177.50,240.60 L178.00,240.51 L178.50,240.59 L179.00,240.98 L179.50,240.93 L180.00,240.70 L180.50,240.39 L181.00,240.40 L181.50,240.35 L182.00,240.07 L182.50,240.16 L183.00,240.66 L183.50,240.75 L184.00,240.63 L184.50,240.74 L185.00,241.06 L185.50,241.14 L186.00,241.27 L186.50,240.77 L187.00,240.77 L187.50,240.67 L188.00,240.80 L188.50,240.80 L189.00,241.52 L189.50,241.61 L190.00,241.31 L190.50,240.87 L191.00,240.88 L191.50,240.17 L192.00,240.53 L192.50,240.88 L193.00,240.57 L193.50,240.11 L194.00,240.54 L194.50,240.12 L195.00,239.18 L195.50,239.63 L196.00,239.97 L196.50,239.73 L197.00,240.37 L197.50,240.95 L198.00,240.53 L198.50,240.48 L199.00,240.29 L199.50,239.54 L200.00,239.56 L200.50,239.56 L201.00,239.38 L201.50,240.00 L202.00,240.34 L202.50,240.39 L203.00,240.61 L203.50,240.78 L204.00,240.67 L204.50,240.40 L205.00,240.60 L205.50,240.17 L206.00,239.93 L206.50,239.16 L207.00,239.02 L207.50,238.62 L208.00,239.15 L208.50,238.97 L209.00,239.24 L209.50,239.17 L210.00,238.78 L210.50,238.05 L211.00,238.16 L211.50,237.65 L212.00,237.68 L212.50,238.46 L213.00,238.37 L213.50,238.29 L214.00,238.20 L214.50,238.11 L215.00,238.02 L215.50,237.93 L216.00,237.83 L216.50,237.74 L217.00,237.64 L217.50,237.54 L218.00,237.44 L218.50,237.33 L219.00,237.21 L219.50,237.08 L220.00,236.92 L220.50,236.74 L221.00,236.53 L221.50,236.28 L222.00,236.01 L222.50,235.69 L223.00,235.31 L223.50,234.49 L224.00,233.09 L224.50,231.19 L225.00,228.86 L225.50,226.17 L226.00,222.08 L226.50,215.78 L227.00,210.00 L227.50,204.89 L228.00,200.69 L228.50,199.97 L229.00,201.54 L229.50,204.62 L230.00,211.40 L230.50,219.65 L231.00,229.50 L231.50,239.94 L232.00,250.00 L232.50,261.20 L233.00,273.62 L233.50,284.09 L234.00,289.43 L234.50,288.62 L235.00,285.55 L235.50,282.00 L236.00,278.24 L236.50,273.91 L237.00,269.75 L237.50,266.30 L238.00,263.11 L238.50,260.15 L239.00,257.44 L239.50,255.00 L240.00,252.60 L240.50,250.23 L241.00,248.27 L241.50,247.11 L242.00,246.69 L242.50,246.33 L243.00,246.01 L243.50,245.72 L244.00,245.46 L244.50,245.23 L245.00,245.03 L245.50,244.86 L246.00,244.71 L246.50,244.59 L247.00,244.49 L247.50,244.41 L248.00,244.35 L248.50,244.31 L249.00,244.28 L249.50,244.26 L250.00,244.18 L250.50,243.85 L251.00,243.94 L251.50,243.83 L252.00,244.09 L252.50,244.33 L253.00,244.46 L253.50,244.27 L254.00,244.94 L254.50,244.92 L255.00,244.96 L255.50,244.95 L256.00,245.25 L256.50,244.39 L257.00,244.57 L257.50,244.27 L258.00,244.05 L258.50,243.35 L259.00,243.34 L259.50,242.91 L260.00,242.79 L260.50,242.97 L261.00,242.83 L261.50,243.62 L262.00,243.77 L262.50,243.86 L263.00,243.55 L263.50,243.71 L264.00,243.06 L264.50,242.85 L265.00,242.90 L265.50,243.02 L266.00,242.85 L266.50,243.05 L267.00,242.95 L267.50,242.98 L268.00,243.47 L268.50,243.96 L269.00,243.94 L269.50,243.75 L270.00,243.36 L270.50,242.47 L271.00,242.49 L271.50,242.37 L272.00,242.78 L272.50,242.96 L273.00,243.39 L273.50,243.55 L274.00,243.56 L274.50,243.46 L275.00,243.41 L275.50,243.59 L276.00,242.99 L276.50,242.87 L277.00,242.61 L277.50,242.46 L278.00,242.35 L278.50,243.23 L279.00,243.26 L279.50,243.83 L280.00,244.24 L280.50,243.85 L281.00,243.14 L281.50,243.33 L282.00,242.92 L282.50,243.33 L283.00,243.13 L283.50,243.29 L284.00,243.42 L284.50,243.45 L285.00,243.01 L285.50,243.69 L286.00,243.63 L286.50,243.65 L287.00,243.97 L287.50,243.43 L288.00,243.58 L288.50,244.10 L289.00,244.24 L289.50,244.32 L290.00,244.47 L290.50,244.08 L291.00,243.32 L291.50,242.93 L292.00,242.92 L292.50,243.07 L293.00,243.06 L293.50,242.79 L294.00,242.90 L294.50,242.68 L295.00,242.71 L295.50,242.56 L296.00,243.50 L296.50,243.24 L297.00,242.96 L297.50,242.93 L298.00,243.40 L298.50,243.46 L299.00,243.84 L299.50,243.92 L300.00,244.01 L300.50,243.98 L301.00,243.24 L301.50,243.51 L302.00,244.04 L302.50,244.16 L303.00,244.06 L303.50,244.47 L304.00,244.49 L304.50,243.89 L305.00,244.16 L305.50,243.91 L306.00,243.53 L306.50,243.18 L307.00,243.38 L307.50,242.85 L308.00,242.55 L308.50,242.51 L309.00,242.84 L309.50,243.37 L310.00,243.78 L310.50,244.46 L311.00,244.57 L311.50,244.19 L312.00,243.78 L312.50,243.35 L313.00,242.82 L313.50,242.97 L314.00,242.91 L314.50,242.58 L315.00,242.94 L315.50,243.12 L316.00,243.34 L316.50,243.42 L317.00,243.61 L317.50,243.55 L318.00,243.57 L318.50,243.15 L319.00,243.06 L319.50,243.31 L320.00,243.44 L320.50,243.80 L321.00,243.55 L321.50,243.55 L322.00,243.26 L322.50,243.15 L323.00,242.72 L323.50,243.01 L324.00,243.30 L324.50,243.45 L325.00,243.12 L325.50,243.56 L326.00,243.93 L326.50,243.60 L327.00,243.76 L327.50,243.86 L328.00,243.81 L328.50,243.51 L329.00,243.46 L329.50,243.16 L330.00,243.15 L330.50,242.93 L331.00,243.02 L331.50,243.23 L332.00,243.18 L332.50,242.47 L333.00,242.45 L333.50,241.94 L334.00,241.99 L334.50,242.41 L335.00,243.38 L335.50,243.26 L336.00,243.68 L336.50,243.59 L337.00,243.17 L337.50,242.96 L338.00,242.83 L338.50,243.17 L339.00,243.20 L339.50,243.57 L340.00,243.65 L340.50,243.90 L341.00,243.56 L341.50,243.68 L342.00,243.65 L342.50,243.77 L343.00,243.59 L343.50,243.44 L344.00,243.74 L344.50,243.46 L345.00,243.33 L345.50,243.86 L346.00,244.32 L346.50,244.05 L347.00,244.02 L347.50,244.67 L348.00,244.40 L348.50,244.27 L349.00,244.10 L349.50,243.85 L350.00,242.94 L350.50,242.95 L351.00,242.91 L351.50,242.89 L352.00,242.95 L352.50,242.93 L353.00,242.75 L353.50,242.30 L354.00,242.58 L354.50,243.15 L355.00,244.20 L355.50,244.50 L356.00,244.71 L356.50,244.28 L357.00,243.15 L357.50,242.30 L358.00,242.04 L358.50,242.43 L359.00,242.80 L359.50,243.79 L360.00,243.99 L360.50,244.20 L361.00,244.32 L361.50,243.91 L362.00,243.65 L362.50,243.26 L363.00,243.49 L363.50,243.46 L364.00,243.91 L364.50,243.73 L365.00,244.11 L365.50,243.66 L366.00,243.36 L366.50,243.13 L367.00,243.55 L367.50,243.41 L368.00,243.68 L368.50,243.72 L369.00,243.70 L369.50,243.55 L370.00,243.54 L370.50,243.53 L371.00,243.40 L371.50,243.55 L372.00,243.48 L372.50,243.22 L373.00,243.25 L373.50,243.06 L374.00,243.15 L374.50,243.35 L375.00,243.31 L375.50,242.86 L376.00,243.00 L376.50,242.63 L377.00,242.23 L377.50,242.83 L378.00,243.00 L378.50,243.22 L379.00,243.32 L379.50,243.69 L380.00,243.33 L380.50,243.38 L381.00,243.43 L381.50,243.55 L382.00,243.36 L382.50,243.28 L383.00,243.33 L383.50,243.27 L384.00,243.20 L384.50,243.13 L385.00,243.53 L385.50,244.10 L386.00,243.94 L386.50,244.09 L387.00,244.38 L387.50,243.61 L388.00,243.04 L388.50,242.94 L389.00,243.20 L389.50,243.04 L390.00,243.49 L390.50,243.41 L391.00,243.62 L391.50,243.15 L392.00,243.20 L392.50,243.06 L393.00,243.06 L393.50,243.21 L394.00,243.84 L394.50,244.02 L395.00,244.43 L395.50,244.78 L396.00,244.84 L396.50,244.77 L397.00,244.86 L397.50,244.77 L398.00,244.54 L398.50,244.34 L399.00,244.01 L399.50,243.79 L400.00,243.63 L400.50,243.05 L401.00,242.84 L401.50,242.27 L402.00,242.24 L402.50,242.44 L403.00,242.55 L403.50,242.89 L404.00,243.60 L404.50,243.61 L405.00,244.02 L405.50,244.90 L406.00,244.44 L406.50,244.48 L407.00,244.57 L407.50,244.26 L408.00,244.04 L408.50,244.16 L409.00,243.76 L409.50,243.45 L410.00,243.17 L410.50,242.92 L411.00,242.74 L411.50,242.63 L412.00,242.98 L412.50,243.15 L413.00,243.27 L413.50,243.17 L414.00,243.24 L414.50,242.96 L415.00,242.99 L415.50,242.75 L416.00,243.45 L416.50,243.63 L417.00,243.78 L417.50,243.78 L418.00,244.10 L418.50,243.76 L419.00,244.05 L419.50,244.16 L420.00,244.20 L420.50,244.04 L421.00,244.29 L421.50,244.27 L422.00,244.39 L422.50,244.45 L423.00,244.66 L423.50,244.56 L424.00,244.62 L424.50,244.39 L425.00,243.79 L425.50,243.91 L426.00,243.91 L426.50,243.32 L427.00,243.28 L427.50,243.57 L428.00,243.77 L428.50,243.87 L429.00,243.77 L429.50,243.96 L430.00,244.08 L430.50,244.04 L431.00,243.67 L431.50,243.50 L432.00,243.39 L432.50,243.41 L433.00,242.84 L433.50,242.57 L434.00,243.24 L434.50,243.64 L435.00,243.26 L435.50,243.65 L436.00,244.04 L436.50,244.52 L437.00,244.22 L437.50,244.65 L438.00,244.64 L438.50,244.91 L439.00,244.19 L439.50,244.26 L440.00,244.19 L440.50,243.48 L441.00,243.86 L441.50,243.92 L442.00,243.60 L442.50,243.82 L443.00,243.88 L443.50,243.05 L444.00,243.02 L444.50,243.05 L445.00,242.98 L445.50,243.65 L446.00,243.87 L446.50,244.12 L447.00,244.40 L447.50,244.12 L448.00,243.91 L448.50,243.80 L449.00,243.95 L449.50,243.91 L450.00,244.19 L450.50,243.81 L451.00,244.08" fill="none" stroke="#e3101f" stroke-width="2.8" stroke-linejoin="round" stroke-linecap="round"/>
<path d="M32.60,306.85 L33.10,306.89 L33.60,307.38 L34.10,307.75 L34.60,307.89 L35.10,308.44 L35.60,308.47 L36.10,308.17 L36.60,308.01 L37.10,308.15 L37.60,308.37 L38.10,308.45 L38.60,308.03 L39.10,308.15 L39.60,307.96 L40.10,307.24 L40.60,306.38 L41.10,306.97 L41.60,306.84 L42.10,307.16 L42.60,307.51 L43.10,308.76 L43.60,308.48 L44.10,308.52 L44.60,308.11 L45.10,307.75 L45.60,307.59 L46.10,307.71 L46.60,307.10 L47.10,307.40 L47.60,307.45 L48.10,306.95 L48.60,306.96 L49.10,307.21 L49.60,306.70 L50.10,306.45 L50.60,307.15 L51.10,306.63 L51.60,306.80 L52.10,307.38 L52.60,307.85 L53.10,307.05 L53.60,307.37 L54.10,307.35 L54.60,307.41 L55.10,307.07 L55.60,307.08 L56.10,307.44 L56.60,307.70 L57.10,307.59 L57.60,307.60 L58.10,308.02 L58.60,307.78 L59.10,307.71 L59.60,307.28 L60.10,307.48 L60.60,307.33 L61.10,307.00 L61.60,306.84 L62.10,307.18 L62.60,307.05 L63.10,307.20 L63.60,307.11 L64.10,307.04 L64.60,307.15 L65.10,307.34 L65.60,307.52 L66.10,307.58 L66.60,307.20 L67.10,307.15 L67.60,307.19 L68.10,307.47 L68.60,307.96 L69.10,308.13 L69.60,308.28 L70.10,307.94 L70.60,306.98 L71.10,307.51 L71.60,307.83 L72.10,307.81 L72.60,308.19 L73.10,309.07 L73.60,308.45 L74.10,308.69 L74.60,308.23 L75.10,307.70 L75.60,307.60 L76.10,307.92 L76.60,307.73 L77.10,308.07 L77.60,308.49 L78.10,307.92 L78.60,307.94 L79.10,307.98 L79.60,308.06 L80.10,308.12 L80.60,308.58 L81.10,308.31 L81.60,308.33 L82.10,307.88 L82.60,307.92 L83.10,308.23 L83.60,307.95 L84.10,307.72 L84.60,308.27 L85.10,308.39 L85.60,307.98 L86.10,307.68 L86.60,307.85 L87.10,307.30 L87.60,306.82 L88.10,306.80 L88.60,307.16 L89.10,307.24 L89.60,308.40 L90.10,308.83 L90.60,308.87 L91.10,308.71 L91.60,308.33 L92.10,307.20 L92.60,306.85 L93.10,306.37 L93.60,306.43 L94.10,306.55 L94.60,306.57 L95.10,306.33 L95.60,306.26 L96.10,306.56 L96.60,306.63 L97.10,307.17 L97.60,307.83 L98.10,308.10 L98.60,308.16 L99.10,307.76 L99.60,308.09 L100.10,308.13 L100.60,308.17 L101.10,307.68 L101.60,308.16 L102.10,307.05 L102.60,306.53 L103.10,306.78 L103.60,307.11 L104.10,306.88 L104.60,307.63 L105.10,307.57 L105.60,307.44 L106.10,307.29 L106.60,307.19 L107.10,307.06 L107.60,307.08 L108.10,307.51 L108.60,307.48 L109.10,308.24 L109.60,307.83 L110.10,308.25 L110.60,307.42 L111.10,307.22 L111.60,306.73 L112.10,307.21 L112.60,306.70 L113.10,307.34 L113.60,307.49 L114.10,307.48 L114.60,307.40 L115.10,307.90 L115.60,307.10 L116.10,307.75 L116.60,307.86 L117.10,307.64 L117.60,307.21 L118.10,307.24 L118.60,306.44 L119.10,306.44 L119.60,306.46 L120.10,306.43 L120.60,306.74 L121.10,307.53 L121.60,307.29 L122.10,307.23 L122.60,307.89 L123.10,308.15 L123.60,307.75 L124.10,307.67 L124.60,307.41 L125.10,306.74 L125.60,306.49 L126.10,306.42 L126.60,306.68 L127.10,307.24 L127.60,307.61 L128.10,307.80 L128.60,307.58 L129.10,306.91 L129.60,306.63 L130.10,306.31 L130.60,306.08 L131.10,306.28 L131.60,306.52 L132.10,306.36 L132.60,306.59 L133.10,306.79 L133.60,306.69 L134.10,307.16 L134.60,307.39 L135.10,307.15 L135.60,307.13 L136.10,307.80 L136.60,307.49 L137.10,307.86 L137.60,308.50 L138.10,308.89 L138.60,308.17 L139.10,308.88 L139.60,308.60 L140.10,308.17 L140.60,307.70 L141.10,308.08 L141.60,307.56 L142.10,307.48 L142.60,307.89 L143.10,307.76 L143.60,307.32 L144.10,307.52 L144.60,307.75 L145.10,307.70 L145.60,307.61 L146.10,308.17 L146.60,308.09 L147.10,308.37 L147.60,307.75 L148.10,308.09 L148.60,307.73 L149.10,307.17 L149.60,306.51 L150.10,307.15 L150.60,306.96 L151.10,306.84 L151.60,307.50 L152.10,307.95 L152.60,307.91 L153.10,307.83 L153.60,308.00 L154.10,308.05 L154.60,307.61 L155.10,307.14 L155.60,307.57 L156.10,308.01 L156.60,307.42 L157.10,306.90 L157.60,306.72 L158.10,306.22 L158.60,305.77 L159.10,306.24 L159.60,306.89 L160.10,307.09 L160.60,307.40 L161.10,307.18 L161.60,307.01 L162.10,306.87 L162.60,307.77 L163.10,307.95 L163.60,307.98 L164.10,307.73 L164.60,307.78 L165.10,306.63 L165.60,306.21 L166.10,306.24 L166.60,306.74 L167.10,306.74 L167.60,306.97 L168.10,306.81 L168.60,306.69 L169.10,306.43 L169.60,306.49 L170.10,307.00 L170.60,307.19 L171.10,307.79 L171.60,307.87 L172.10,307.93 L172.60,307.09 L173.10,306.91 L173.60,306.82 L174.10,307.13 L174.60,307.18 L175.10,307.92 L175.60,308.16 L176.10,307.86 L176.60,307.31 L177.10,307.51 L177.60,307.40 L178.10,307.44 L178.60,307.45 L179.10,307.78 L179.60,307.60 L180.10,307.29 L180.60,307.81 L181.10,307.96 L181.60,307.81 L182.10,308.12 L182.60,308.62 L183.10,308.13 L183.60,308.21 L184.10,307.92 L184.60,307.35 L185.10,306.47 L185.60,306.82 L186.10,306.17 L186.60,306.64 L187.10,306.58 L187.60,306.92 L188.10,306.55 L188.60,307.12 L189.10,307.10 L189.60,307.80 L190.10,308.15 L190.60,308.44 L191.10,308.20 L191.60,308.23 L192.10,307.79 L192.60,307.57 L193.10,307.30 L193.60,307.44 L194.10,307.29 L194.60,307.35 L195.10,307.33 L195.60,307.14 L196.10,307.35 L196.60,306.84 L197.10,306.55 L197.60,307.09 L198.10,306.55 L198.60,306.15 L199.10,306.77 L199.60,306.48 L200.10,307.03 L200.60,307.02 L201.10,307.23 L201.60,307.30 L202.10,307.56 L202.60,307.23 L203.10,307.52 L203.60,307.25 L204.10,307.15 L204.60,306.91 L205.10,306.87 L205.60,306.90 L206.10,306.82 L206.60,306.61 L207.10,306.66 L207.60,306.44 L208.10,306.34 L208.60,306.37 L209.10,306.12 L209.60,305.97 L210.10,305.89 L210.60,305.56 L211.10,305.41 L211.60,305.37 L212.10,305.36 L212.60,305.24 L213.10,305.28 L213.60,305.12 L214.10,305.13 L214.60,304.81 L215.10,304.67 L215.60,304.28 L216.10,304.18 L216.60,304.04 L217.10,304.19 L217.60,304.25 L218.10,304.29 L218.60,304.11 L219.10,303.98 L219.60,303.70 L220.10,303.70 L220.60,303.80 L221.10,303.83 L221.60,303.89 L222.10,304.26 L222.60,304.40 L223.10,304.57 L223.60,305.10 L224.10,305.46 L224.60,305.61 L225.10,305.84 L225.60,305.94 L226.10,306.17 L226.60,306.33 L227.10,306.56 L227.60,306.81 L228.10,307.43 L228.60,307.76 L229.10,308.51 L229.60,309.13 L230.10,310.02 L230.60,310.62 L231.10,311.46 L231.60,312.22 L232.10,312.98 L232.60,313.59 L233.10,313.94 L233.60,313.91 L234.10,313.69 L234.60,313.40 L235.10,312.95 L235.60,312.65 L236.10,312.09 L236.60,311.88 L237.10,311.71 L237.60,311.49 L238.10,311.21 L238.60,311.01 L239.10,310.57 L239.60,310.53 L240.10,310.27 L240.60,309.90 L241.10,309.92 L241.60,309.87 L242.10,309.34 L242.60,308.94 L243.10,308.78 L243.60,308.64 L244.10,308.54 L244.60,308.58 L245.10,308.72 L245.60,308.83 L246.10,308.46 L246.60,308.31 L247.10,308.14 L247.60,307.88 L248.10,307.66 L248.60,307.78 L249.10,307.71 L249.60,307.57 L250.10,307.59 L250.60,307.82 L251.10,307.69 L251.60,307.52 L252.10,307.70 L252.60,307.82 L253.10,307.65 L253.60,307.65 L254.10,307.94 L254.60,307.84 L255.10,307.41 L255.60,307.13 L256.10,307.41 L256.60,307.35 L257.10,307.74 L257.60,308.05 L258.10,308.48 L258.60,308.55 L259.10,308.61 L259.60,308.09 L260.10,307.70 L260.60,307.68 L261.10,307.31 L261.60,307.01 L262.10,307.38 L262.60,307.70 L263.10,307.40 L263.60,308.17 L264.10,307.60 L264.60,307.89 L265.10,308.66 L265.60,308.82 L266.10,308.47 L266.60,309.37 L267.10,309.65 L267.60,308.75 L268.10,308.80 L268.60,308.78 L269.10,308.77 L269.60,308.36 L270.10,308.88 L270.60,308.78 L271.10,308.87 L271.60,308.58 L272.10,308.39 L272.60,308.21 L273.10,308.32 L273.60,308.02 L274.10,308.65 L274.60,308.82 L275.10,308.52 L275.60,308.89 L276.10,309.03 L276.60,308.78 L277.10,308.84 L277.60,309.31 L278.10,309.09 L278.60,309.16 L279.10,309.07 L279.60,309.64 L280.10,309.00 L280.60,309.00 L281.10,309.30 L281.60,309.03 L282.10,308.15 L282.60,309.34 L283.10,309.25 L283.60,309.71 L284.10,310.15 L284.60,310.56 L285.10,310.13 L285.60,310.41 L286.10,310.19 L286.60,310.18 L287.10,310.21 L287.60,310.14 L288.10,310.35 L288.60,310.26 L289.10,309.89 L289.60,309.68 L290.10,309.73 L290.60,309.21 L291.10,308.90 L291.60,308.91 L292.10,309.02 L292.60,309.05 L293.10,309.49 L293.60,309.59 L294.10,310.41 L294.60,310.46 L295.10,311.21 L295.60,311.21 L296.10,311.35 L296.60,310.67 L297.10,309.94 L297.60,309.05 L298.10,308.84 L298.60,309.22 L299.10,308.99 L299.60,310.26 L300.10,310.24 L300.60,310.39 L301.10,309.20 L301.60,309.61 L302.10,309.02 L302.60,309.27 L303.10,309.11 L303.60,309.49 L304.10,309.71 L304.60,309.99 L305.10,309.97 L305.60,310.22 L306.10,310.82 L306.60,310.57 L307.10,310.03 L307.60,309.50 L308.10,309.60 L308.60,309.50 L309.10,309.54 L309.60,309.79 L310.10,310.17 L310.60,309.82 L311.10,309.54 L311.60,309.34 L312.10,310.03 L312.60,310.09 L313.10,309.93 L313.60,309.67 L314.10,309.67 L314.60,309.29 L315.10,309.44 L315.60,309.54 L316.10,309.91 L316.60,310.03 L317.10,309.54 L317.60,309.69 L318.10,309.85 L318.60,310.50 L319.10,310.39 L319.60,310.65 L320.10,310.54 L320.60,310.38 L321.10,309.36 L321.60,309.31 L322.10,309.38 L322.60,309.24 L323.10,309.28 L323.60,309.92 L324.10,310.45 L324.60,310.51 L325.10,310.43 L325.60,310.39 L326.10,310.27 L326.60,310.26 L327.10,310.19 L327.60,310.31 L328.10,310.29 L328.60,309.77 L329.10,309.26 L329.60,309.46 L330.10,309.46 L330.60,309.97 L331.10,310.37 L331.60,310.87 L332.10,311.02 L332.60,311.17 L333.10,310.59 L333.60,310.53 L334.10,310.34 L334.60,309.73 L335.10,309.59 L335.60,310.03 L336.10,309.95 L336.60,310.45 L337.10,310.64 L337.60,310.46 L338.10,310.13 L338.60,310.07 L339.10,309.66 L339.60,309.75 L340.10,310.25 L340.60,310.48 L341.10,310.81 L341.60,310.64 L342.10,310.26 L342.60,309.80 L343.10,309.42 L343.60,309.53 L344.10,309.58 L344.60,310.41 L345.10,310.63 L345.60,311.09 L346.10,310.90 L346.60,310.96 L347.10,310.70 L347.60,310.75 L348.10,310.34 L348.60,310.41 L349.10,311.06 L349.60,310.86 L350.10,310.55 L350.60,310.56 L351.10,310.05 L351.60,309.67 L352.10,309.71 L352.60,309.86 L353.10,310.54 L353.60,311.60 L354.10,311.05 L354.60,311.32 L355.10,311.41 L355.60,311.02 L356.10,310.49 L356.60,310.72 L357.10,310.87 L357.60,310.87 L358.10,310.86 L358.60,311.06 L359.10,311.31 L359.60,311.01 L360.10,310.94 L360.60,311.32 L361.10,311.13 L361.60,310.86 L362.10,310.52 L362.60,310.34 L363.10,309.59 L363.60,309.49 L364.10,309.58 L364.60,309.27 L365.10,309.37 L365.60,309.82 L366.10,309.84 L366.60,309.52 L367.10,310.41 L367.60,310.22 L368.10,309.72 L368.60,309.39 L369.10,309.64 L369.60,309.57 L370.10,310.07 L370.60,310.46 L371.10,310.43 L371.60,310.26 L372.10,309.76 L372.60,309.40 L373.10,308.88 L373.60,309.23 L374.10,309.58 L374.60,309.78 L375.10,309.95 L375.60,310.18 L376.10,309.76 L376.60,309.42 L377.10,309.77 L377.60,309.92 L378.10,310.05 L378.60,310.77 L379.10,310.85 L379.60,310.95 L380.10,310.80 L380.60,310.81 L381.10,310.70 L381.60,310.58 L382.10,309.93 L382.60,309.42 L383.10,309.61 L383.60,309.38 L384.10,309.57 L384.60,309.71 L385.10,310.49 L385.60,310.31 L386.10,310.13 L386.60,310.48 L387.10,310.98 L387.60,310.68 L388.10,310.33 L388.60,310.37 L389.10,310.20 L389.60,309.83 L390.10,310.16 L390.60,310.26 L391.10,310.60 L391.60,310.27 L392.10,310.62 L392.60,310.19 L393.10,310.83 L393.60,310.48 L394.10,310.27 L394.60,309.62 L395.10,309.48 L395.60,308.93 L396.10,309.43 L396.60,310.16 L397.10,310.53 L397.60,310.42 L398.10,310.67 L398.60,310.16 L399.10,310.20 L399.60,310.21 L400.10,310.62 L400.60,310.54 L401.10,310.19 L401.60,309.60 L402.10,309.22 L402.60,309.19 L403.10,309.32 L403.60,309.64 L404.10,309.75 L404.60,310.47 L405.10,310.11 L405.60,309.84 L406.10,310.00 L406.60,309.92 L407.10,309.38 L407.60,309.78 L408.10,310.49 L408.60,310.08 L409.10,310.26 L409.60,310.39 L410.10,310.23 L410.60,309.71 L411.10,310.10 L411.60,310.37 L412.10,310.24 L412.60,310.23 L413.10,310.28 L413.60,310.40 L414.10,310.09 L414.60,310.48 L415.10,310.51 L415.60,310.56 L416.10,310.52 L416.60,310.30 L417.10,309.81 L417.60,309.53 L418.10,309.54 L418.60,309.36 L419.10,309.35 L419.60,309.63 L420.10,310.06 L420.60,309.53 L421.10,310.18 L421.60,310.47 L422.10,310.38 L422.60,310.52 L423.10,311.01 L423.60,310.40 L424.10,310.98 L424.60,310.72 L425.10,310.41 L425.60,310.62 L426.10,310.50 L426.60,309.88 L427.10,310.28 L427.60,310.94 L428.10,310.48 L428.60,310.75 L429.10,310.96 L429.60,310.88 L430.10,309.91 L430.60,310.26 L431.10,310.30 L431.60,310.25 L432.10,310.53 L432.60,311.12 L433.10,311.12 L433.60,311.18 L434.10,310.76 L434.60,310.43 L435.10,310.21 L435.60,310.00 L436.10,309.94 L436.60,310.02 L437.10,310.46 L437.60,310.98 L438.10,310.98 L438.60,311.06 L439.10,311.22 L439.60,311.15 L440.10,310.69 L440.60,310.82 L441.10,310.65 L441.60,310.75 L442.10,310.14 L442.60,310.21 L443.10,310.00 L443.60,310.20 L444.10,310.20 L444.60,310.76 L445.10,310.57 L445.60,311.04 L446.10,310.65 L446.60,310.78 L447.10,310.42 L447.60,310.48 L448.10,310.23 L448.60,310.72 L449.10,310.02 L449.60,310.17 L450.10,309.72 L450.60,310.02" fill="none" stroke="#111" stroke-width="2.8" stroke-linejoin="round" stroke-linecap="round"/>
<text transform="translate(201.37,24.80) scale(1.0385,1)" fill="#000" xml:space="preserve"><tspan font-size="23.00" font-weight="bold">under illumination + air</tspan></text>
<text transform="translate(130.48,61.90) scale(1.0362,1)" fill="#000" xml:space="preserve"><tspan font-size="23.00" font-weight="bold">under illumination + N</tspan><tspan font-size="16.40" font-weight="bold" dy="4.80">2</tspan><tspan font-size="23.00" font-weight="bold" dy="-4.80">, 3 min</tspan></text>
<text transform="translate(127.18,195.70) scale(1.0340,1)" fill="#000" xml:space="preserve"><tspan font-size="23.00" font-weight="bold">under illumination + N</tspan><tspan font-size="16.40" font-weight="bold" dy="4.80">2</tspan><tspan font-size="23.00" font-weight="bold" dy="-4.80">, 1 min</tspan></text>
<text transform="translate(196.15,304.80) scale(1.0353,1)" fill="#000" xml:space="preserve"><tspan font-size="23.00" font-weight="bold">before illumination + N</tspan><tspan font-size="16.20" font-weight="bold" dy="4.80">2</tspan></text>
<text transform="translate(264.13,106.50) scale(0.9696,1)" fill="#000" xml:space="preserve"><tspan font-size="23.00" font-weight="bold">g=2.0021</tspan></text>
<line x1="235.90" y1="115.60" x2="261.50" y2="103.50" stroke="#000" stroke-width="2.1"/>
<path d="M252.2,102.6 L262.8,103.2 L256.2,111.0" fill="none" stroke="#000" stroke-width="2.1" stroke-linejoin="miter"/>
<path d="M262.8,103.2 L254.5,103.5 L257.5,108.2 Z" fill="#000"/>
<line x1="513.00" y1="330.00" x2="974.50" y2="330.00" stroke="#000" stroke-width="2.4"/>
<line x1="514.25" y1="330.00" x2="514.25" y2="335.50" stroke="#000" stroke-width="2.2"/>
<line x1="556.00" y1="330.00" x2="556.00" y2="333.50" stroke="#000" stroke-width="2.2"/>
<line x1="597.75" y1="330.00" x2="597.75" y2="335.50" stroke="#000" stroke-width="2.2"/>
<line x1="639.50" y1="330.00" x2="639.50" y2="333.50" stroke="#000" stroke-width="2.2"/>
<line x1="681.25" y1="330.00" x2="681.25" y2="335.50" stroke="#000" stroke-width="2.2"/>
<line x1="723.00" y1="330.00" x2="723.00" y2="333.50" stroke="#000" stroke-width="2.2"/>
<line x1="764.75" y1="330.00" x2="764.75" y2="335.50" stroke="#000" stroke-width="2.2"/>
<line x1="806.50" y1="330.00" x2="806.50" y2="333.50" stroke="#000" stroke-width="2.2"/>
<line x1="848.25" y1="330.00" x2="848.25" y2="335.50" stroke="#000" stroke-width="2.2"/>
<line x1="890.00" y1="330.00" x2="890.00" y2="333.50" stroke="#000" stroke-width="2.2"/>
<line x1="931.75" y1="330.00" x2="931.75" y2="335.50" stroke="#000" stroke-width="2.2"/>
<line x1="973.50" y1="330.00" x2="973.50" y2="333.50" stroke="#000" stroke-width="2.2"/>
<text transform="translate(497.42,356.50) scale(0.9650,1)" fill="#000" xml:space="preserve"><tspan font-size="21.00" font-weight="bold">318</tspan></text>
<text transform="translate(580.98,356.50) scale(0.9650,1)" fill="#000" xml:space="preserve"><tspan font-size="21.00" font-weight="bold">320</tspan></text>
<text transform="translate(664.48,356.50) scale(0.9650,1)" fill="#000" xml:space="preserve"><tspan font-size="21.00" font-weight="bold">322</tspan></text>
<text transform="translate(747.62,356.50) scale(0.9650,1)" fill="#000" xml:space="preserve"><tspan font-size="21.00" font-weight="bold">324</tspan></text>
<text transform="translate(831.48,356.50) scale(0.9650,1)" fill="#000" xml:space="preserve"><tspan font-size="21.00" font-weight="bold">326</tspan></text>
<text transform="translate(914.92,356.50) scale(0.9650,1)" fill="#000" xml:space="preserve"><tspan font-size="21.00" font-weight="bold">328</tspan></text>
<text transform="translate(635.10,381.30) scale(0.9843,1)" fill="#000" xml:space="preserve"><tspan font-size="24.30" font-weight="bold">Magnetic field (mT)</tspan></text>
<text transform="translate(600.38,25.20) scale(1.0355,1)" fill="#000" xml:space="preserve"><tspan font-size="23.00" font-weight="bold">under illumination + benzylamine</tspan></text>
<text transform="translate(708.78,115.90) scale(1.0351,1)" fill="#000" xml:space="preserve"><tspan font-size="23.00" font-weight="bold">under illumination, 30 s</tspan></text>
<text transform="translate(762.95,305.80) scale(1.0321,1)" fill="#000" xml:space="preserve"><tspan font-size="23.00" font-weight="bold">before illumination</tspan></text>
<path d="M526.25,63.82 L526.75,63.89 L527.25,63.74 L527.75,63.85 L528.25,64.02 L528.75,64.16 L529.25,64.20 L529.75,64.18 L530.25,64.02 L530.75,63.97 L531.25,63.75 L531.75,63.58 L532.25,63.69 L532.75,63.76 L533.25,63.85 L533.75,63.66 L534.25,63.89 L534.75,64.03 L535.25,63.94 L535.75,63.53 L536.25,64.00 L536.75,64.22 L537.25,63.97 L537.75,63.91 L538.25,64.18 L538.75,64.37 L539.25,64.07 L539.75,63.87 L540.25,64.37 L540.75,64.20 L541.25,64.14 L541.75,64.20 L542.25,64.51 L542.75,64.22 L543.25,64.50 L543.75,64.56 L544.25,64.23 L544.75,64.15 L545.25,64.52 L545.75,64.24 L546.25,63.79 L546.75,64.15 L547.25,64.29 L547.75,64.00 L548.25,63.99 L548.75,64.17 L549.25,64.10 L549.75,64.18 L550.25,64.07 L550.75,64.11 L551.25,64.15 L551.75,64.44 L552.25,64.45 L552.75,64.58 L553.25,64.72 L553.75,64.81 L554.25,64.78 L554.75,64.81 L555.25,65.13 L555.75,65.26 L556.25,65.20 L556.75,64.96 L557.25,65.02 L557.75,64.82 L558.25,64.59 L558.75,64.36 L559.25,64.14 L559.75,64.05 L560.25,64.10 L560.75,64.25 L561.25,64.28 L561.75,64.75 L562.25,64.61 L562.75,64.55 L563.25,64.49 L563.75,64.57 L564.25,64.31 L564.75,64.06 L565.25,63.85 L565.75,63.49 L566.25,63.69 L566.75,63.80 L567.25,64.29 L567.75,64.49 L568.25,64.68 L568.75,64.67 L569.25,64.60 L569.75,64.55 L570.25,64.54 L570.75,64.48 L571.25,64.42 L571.75,64.49 L572.25,64.34 L572.75,64.43 L573.25,64.87 L573.75,64.81 L574.25,64.74 L574.75,64.42 L575.25,64.25 L575.75,63.90 L576.25,63.60 L576.75,63.70 L577.25,64.16 L577.75,64.05 L578.25,64.06 L578.75,64.25 L579.25,64.32 L579.75,63.97 L580.25,64.03 L580.75,64.40 L581.25,64.56 L581.75,64.51 L582.25,64.72 L582.75,64.58 L583.25,64.25 L583.75,64.30 L584.25,64.05 L584.75,64.12 L585.25,64.50 L585.75,64.67 L586.25,64.34 L586.75,64.34 L587.25,64.01 L587.75,63.98 L588.25,63.89 L588.75,64.25 L589.25,64.26 L589.75,64.32 L590.25,64.15 L590.75,64.06 L591.25,63.79 L591.75,63.95 L592.25,64.23 L592.75,64.25 L593.25,64.05 L593.75,63.83 L594.25,63.75 L594.75,63.66 L595.25,63.56 L595.75,63.63 L596.25,63.84 L596.75,63.98 L597.25,63.91 L597.75,63.95 L598.25,63.83 L598.75,63.81 L599.25,63.69 L599.75,63.50 L600.25,63.24 L600.75,63.31 L601.25,63.57 L601.75,63.54 L602.25,63.90 L602.75,64.04 L603.25,64.00 L603.75,63.54 L604.25,63.37 L604.75,63.33 L605.25,63.36 L605.75,63.48 L606.25,63.77 L606.75,63.81 L607.25,63.49 L607.75,63.40 L608.25,63.33 L608.75,63.22 L609.25,63.23 L609.75,63.21 L610.25,62.99 L610.75,62.76 L611.25,62.46 L611.75,62.46 L612.25,62.01 L612.75,62.01 L613.25,62.35 L613.75,62.36 L614.25,61.92 L614.75,62.17 L615.25,62.32 L615.75,61.81 L616.25,61.88 L616.75,61.98 L617.25,61.83 L617.75,62.04 L618.25,61.99 L618.75,61.71 L619.25,61.53 L619.75,61.56 L620.25,61.03 L620.75,61.06 L621.25,61.09 L621.75,60.86 L622.25,60.81 L622.75,60.62 L623.25,60.37 L623.75,60.04 L624.25,60.11 L624.75,59.84 L625.25,59.81 L625.75,59.55 L626.25,59.73 L626.75,59.78 L627.25,59.65 L627.75,59.48 L628.25,59.50 L628.75,59.57 L629.25,59.06 L629.75,59.11 L630.25,59.59 L630.75,59.51 L631.25,59.42 L631.75,59.33 L632.25,59.24 L632.75,59.14 L633.25,59.04 L633.75,58.93 L634.25,58.82 L634.75,58.70 L635.25,58.58 L635.75,58.45 L636.25,58.32 L636.75,58.18 L637.25,58.03 L637.75,57.88 L638.25,57.72 L638.75,57.54 L639.25,57.28 L639.75,56.91 L640.25,56.44 L640.75,55.88 L641.25,55.24 L641.75,54.52 L642.25,53.73 L642.75,52.88 L643.25,51.98 L643.75,51.03 L644.25,50.05 L644.75,49.04 L645.25,48.00 L645.75,46.95 L646.25,45.90 L646.75,44.85 L647.25,43.81 L647.75,42.79 L648.25,41.79 L648.75,40.83 L649.25,39.91 L649.75,39.04 L650.25,38.22 L650.75,37.47 L651.25,36.79 L651.75,36.20 L652.25,35.69 L652.75,35.28 L653.25,34.97 L653.75,34.78 L654.25,34.70 L654.75,34.81 L655.25,35.16 L655.75,35.75 L656.25,36.55 L656.75,37.55 L657.25,38.74 L657.75,40.09 L658.25,41.59 L658.75,43.23 L659.25,44.98 L659.75,46.83 L660.25,48.76 L660.75,50.76 L661.25,52.81 L661.75,54.90 L662.25,57.00 L662.75,59.10 L663.25,61.19 L663.75,63.24 L664.25,65.24 L664.75,67.17 L665.25,69.02 L665.75,70.77 L666.25,72.41 L666.75,73.91 L667.25,75.26 L667.75,76.45 L668.25,77.45 L668.75,78.25 L669.25,78.84 L669.75,79.19 L670.25,79.30 L670.75,79.18 L671.25,78.86 L671.75,78.37 L672.25,77.71 L672.75,76.88 L673.25,75.92 L673.75,74.82 L674.25,73.60 L674.75,72.28 L675.25,70.85 L675.75,69.34 L676.25,67.76 L676.75,66.12 L677.25,64.44 L677.75,62.71 L678.25,60.96 L678.75,59.20 L679.25,57.44 L679.75,55.69 L680.25,53.96 L680.75,52.28 L681.25,50.64 L681.75,49.06 L682.25,47.55 L682.75,46.12 L683.25,44.80 L683.75,43.58 L684.25,42.48 L684.75,41.52 L685.25,40.69 L685.75,40.03 L686.25,39.54 L686.75,39.22 L687.25,39.10 L687.75,39.21 L688.25,39.56 L688.75,40.13 L689.25,40.92 L689.75,41.89 L690.25,43.02 L690.75,44.30 L691.25,45.70 L691.75,47.21 L692.25,48.80 L692.75,50.46 L693.25,52.16 L693.75,53.88 L694.25,55.60 L694.75,57.30 L695.25,58.97 L695.75,60.58 L696.25,62.10 L696.75,63.53 L697.25,64.83 L697.75,66.00 L698.25,67.00 L698.75,67.83 L699.25,68.45 L699.75,68.84 L700.25,69.00 L700.75,68.90 L701.25,68.57 L701.75,68.03 L702.25,67.32 L702.75,66.47 L703.25,65.49 L703.75,64.42 L704.25,63.30 L704.75,62.13 L705.25,60.97 L705.75,59.82 L706.25,58.73 L706.75,57.71 L707.25,56.80 L707.75,56.03 L708.25,55.42 L708.75,55.01 L709.25,54.81 L709.75,54.85 L710.25,55.08 L710.75,55.49 L711.25,56.06 L711.75,56.78 L712.25,57.64 L712.75,58.61 L713.25,59.69 L713.75,60.86 L714.25,62.11 L714.75,63.42 L715.25,64.78 L715.75,66.17 L716.25,67.58 L716.75,68.99 L717.25,70.39 L717.75,71.77 L718.25,73.11 L718.75,74.40 L719.25,75.62 L719.75,76.75 L720.25,77.79 L720.75,78.72 L721.25,79.52 L721.75,80.19 L722.25,80.69 L722.75,81.03 L723.25,81.19 L723.75,81.14 L724.25,80.86 L724.75,80.35 L725.25,79.63 L725.75,78.73 L726.25,77.63 L726.75,76.38 L727.25,74.97 L727.75,73.42 L728.25,71.74 L728.75,69.95 L729.25,68.07 L729.75,66.10 L730.25,64.06 L730.75,61.96 L731.25,59.82 L731.75,57.65 L732.25,55.47 L732.75,53.28 L733.25,51.11 L733.75,48.96 L734.25,46.86 L734.75,44.81 L735.25,42.82 L735.75,40.92 L736.25,39.11 L736.75,37.41 L737.25,35.83 L737.75,34.39 L738.25,33.10 L738.75,31.98 L739.25,31.03 L739.75,30.28 L740.25,29.73 L740.75,29.40 L741.25,29.30 L741.75,29.49 L742.25,29.96 L742.75,30.71 L743.25,31.70 L743.75,32.93 L744.25,34.37 L744.75,35.99 L745.25,37.79 L745.75,39.74 L746.25,41.81 L746.75,44.00 L747.25,46.27 L747.75,48.62 L748.25,51.01 L748.75,53.43 L749.25,55.86 L749.75,58.27 L750.25,60.66 L750.75,62.99 L751.25,65.25 L751.75,67.41 L752.25,69.46 L752.75,71.38 L753.25,73.15 L753.75,74.74 L754.25,76.13 L754.75,77.32 L755.25,78.26 L755.75,78.96 L756.25,79.38 L756.75,79.50 L757.25,79.37 L757.75,79.04 L758.25,78.54 L758.75,77.91 L759.25,77.17 L759.75,76.35 L760.25,75.47 L760.75,74.58 L761.25,73.70 L761.75,72.85 L762.25,72.08 L762.75,71.39 L763.25,70.84 L763.75,70.44 L764.25,70.23 L764.75,70.23 L765.25,70.44 L765.75,70.84 L766.25,71.41 L766.75,72.15 L767.25,73.03 L767.75,74.03 L768.25,75.14 L768.75,76.34 L769.25,77.62 L769.75,78.96 L770.25,80.34 L770.75,81.74 L771.25,83.16 L771.75,84.56 L772.25,85.94 L772.75,87.28 L773.25,88.56 L773.75,89.76 L774.25,90.87 L774.75,91.87 L775.25,92.75 L775.75,93.49 L776.25,94.06 L776.75,94.46 L777.25,94.67 L777.75,94.67 L778.25,94.42 L778.75,93.93 L779.25,93.22 L779.75,92.31 L780.25,91.22 L780.75,89.95 L781.25,88.52 L781.75,86.95 L782.25,85.26 L782.75,83.46 L783.25,81.56 L783.75,79.59 L784.25,77.55 L784.75,75.47 L785.25,73.36 L785.75,71.24 L786.25,69.11 L786.75,67.01 L787.25,64.94 L787.75,62.91 L788.25,60.95 L788.75,59.08 L789.25,57.29 L789.75,55.63 L790.25,54.08 L790.75,52.69 L791.25,51.45 L791.75,50.39 L792.25,49.52 L792.75,48.85 L793.25,48.41 L793.75,48.21 L794.25,48.26 L794.75,48.55 L795.25,49.07 L795.75,49.80 L796.25,50.73 L796.75,51.84 L797.25,53.12 L797.75,54.54 L798.25,56.11 L798.75,57.79 L799.25,59.58 L799.75,61.45 L800.25,63.41 L800.75,65.42 L801.25,67.48 L801.75,69.56 L802.25,71.66 L802.75,73.76 L803.25,75.84 L803.75,77.89 L804.25,79.89 L804.75,81.83 L805.25,83.69 L805.75,85.46 L806.25,87.12 L806.75,88.65 L807.25,90.05 L807.75,91.29 L808.25,92.37 L808.75,93.26 L809.25,93.95 L809.75,94.42 L810.25,94.67 L810.75,94.68 L811.25,94.54 L811.75,94.28 L812.25,93.89 L812.75,93.39 L813.25,92.79 L813.75,92.09 L814.25,91.31 L814.75,90.45 L815.25,89.52 L815.75,88.54 L816.25,87.50 L816.75,86.43 L817.25,85.32 L817.75,84.19 L818.25,83.04 L818.75,81.89 L819.25,80.75 L819.75,79.61 L820.25,78.50 L820.75,77.41 L821.25,76.37 L821.75,75.37 L822.25,74.43 L822.75,73.56 L823.25,72.75 L823.75,72.04 L824.25,71.41 L824.75,70.89 L825.25,70.47 L825.75,70.18 L826.25,69.93 L826.75,69.70 L827.25,69.47 L827.75,69.25 L828.25,69.04 L828.75,68.84 L829.25,68.64 L829.75,68.45 L830.25,68.27 L830.75,68.09 L831.25,67.92 L831.75,67.76 L832.25,67.60 L832.75,67.46 L833.25,67.31 L833.75,67.18 L834.25,67.05 L834.75,66.93 L835.25,66.81 L835.75,66.70 L836.25,66.60 L836.75,66.50 L837.25,66.41 L837.75,66.32 L838.25,66.24 L838.75,66.16 L839.25,66.09 L839.75,66.03 L840.25,66.13 L840.75,66.12 L841.25,66.00 L841.75,65.68 L842.25,65.67 L842.75,65.64 L843.25,65.50 L843.75,65.47 L844.25,65.96 L844.75,65.71 L845.25,65.56 L845.75,65.59 L846.25,65.42 L846.75,65.03 L847.25,65.40 L847.75,65.55 L848.25,65.57 L848.75,65.81 L849.25,65.77 L849.75,65.60 L850.25,65.39 L850.75,65.18 L851.25,65.07 L851.75,65.17 L852.25,65.04 L852.75,65.14 L853.25,64.85 L853.75,65.00 L854.25,65.21 L854.75,65.35 L855.25,65.17 L855.75,65.34 L856.25,65.17 L856.75,64.61 L857.25,64.49 L857.75,64.44 L858.25,64.72 L858.75,64.88 L859.25,64.70 L859.75,64.61 L860.25,64.58 L860.75,64.18 L861.25,63.85 L861.75,64.13 L862.25,64.24 L862.75,64.10 L863.25,64.49 L863.75,64.91 L864.25,65.03 L864.75,64.94 L865.25,65.18 L865.75,64.81 L866.25,64.55 L866.75,64.51 L867.25,64.53 L867.75,64.94 L868.25,65.24 L868.75,65.21 L869.25,65.40 L869.75,65.05 L870.25,64.44 L870.75,64.25 L871.25,64.07 L871.75,63.92 L872.25,64.07 L872.75,64.53 L873.25,64.83 L873.75,65.05 L874.25,64.87 L874.75,65.01 L875.25,64.85 L875.75,64.43 L876.25,64.35 L876.75,64.52 L877.25,64.45 L877.75,64.56 L878.25,64.92 L878.75,64.72 L879.25,64.62 L879.75,64.44 L880.25,64.28 L880.75,63.93 L881.25,64.21 L881.75,64.24 L882.25,64.53 L882.75,64.40 L883.25,64.30 L883.75,64.43 L884.25,64.33 L884.75,64.39 L885.25,64.47 L885.75,64.81 L886.25,64.82 L886.75,64.89 L887.25,64.89 L887.75,64.57 L888.25,64.60 L888.75,64.26 L889.25,64.17 L889.75,63.94 L890.25,64.23 L890.75,64.35 L891.25,64.08 L891.75,64.11 L892.25,63.98 L892.75,64.11 L893.25,63.76 L893.75,64.13 L894.25,64.06 L894.75,64.28 L895.25,64.24 L895.75,64.24 L896.25,64.17 L896.75,64.00 L897.25,63.94 L897.75,63.90 L898.25,63.87 L898.75,64.04 L899.25,63.93 L899.75,63.57 L900.25,63.21 L900.75,63.21 L901.25,63.03 L901.75,63.35 L902.25,63.63 L902.75,63.97 L903.25,63.97 L903.75,63.75 L904.25,63.56 L904.75,63.91 L905.25,63.40 L905.75,63.45 L906.25,63.89 L906.75,64.16 L907.25,63.68 L907.75,64.06 L908.25,64.22 L908.75,64.18 L909.25,63.95 L909.75,64.20 L910.25,64.24 L910.75,64.27 L911.25,64.30 L911.75,64.39 L912.25,64.02 L912.75,64.04 L913.25,64.15 L913.75,64.03 L914.25,64.12 L914.75,64.74 L915.25,64.51 L915.75,64.36 L916.25,64.15 L916.75,64.12 L917.25,63.74 L917.75,64.15 L918.25,63.85 L918.75,63.85 L919.25,63.59 L919.75,63.65 L920.25,63.32 L920.75,63.54 L921.25,63.45 L921.75,63.65 L922.25,63.74 L922.75,63.78 L923.25,63.81 L923.75,64.07 L924.25,64.07 L924.75,63.64 L925.25,63.83 L925.75,63.75 L926.25,63.82 L926.75,63.55 L927.25,63.54 L927.75,63.03 L928.25,62.85 L928.75,62.86 L929.25,63.28 L929.75,63.54 L930.25,63.91 L930.75,64.17 L931.25,63.95 L931.75,63.92 L932.25,63.95 L932.75,63.57 L933.25,63.38 L933.75,63.65 L934.25,63.52 L934.75,63.48 L935.25,63.73 L935.75,63.71 L936.25,63.68 L936.75,63.70 L937.25,63.55 L937.75,63.14 L938.25,63.13 L938.75,62.63 L939.25,62.37 L939.75,62.67 L940.25,63.29 L940.75,63.07 L941.25,63.53 L941.75,63.90 L942.25,63.64 L942.75,63.64 L943.25,63.69 L943.75,63.36 L944.25,63.05" fill="none" stroke="#1f2fd8" stroke-width="2.8" stroke-linejoin="round" stroke-linecap="round"/>
<path d="M534.50,198.26 L535.00,198.44 L535.50,198.95 L536.00,198.96 L536.50,198.98 L537.00,199.36 L537.50,199.23 L538.00,198.83 L538.50,198.76 L539.00,198.83 L539.50,198.72 L540.00,198.81 L540.50,198.97 L541.00,199.35 L541.50,199.44 L542.00,199.15 L542.50,199.19 L543.00,199.21 L543.50,199.13 L544.00,198.97 L544.50,199.10 L545.00,199.04 L545.50,198.75 L546.00,198.64 L546.50,198.59 L547.00,198.78 L547.50,198.69 L548.00,198.91 L548.50,198.77 L549.00,198.70 L549.50,198.75 L550.00,198.84 L550.50,198.99 L551.00,198.97 L551.50,199.16 L552.00,198.78 L552.50,198.79 L553.00,198.64 L553.50,198.91 L554.00,198.93 L554.50,199.17 L555.00,199.39 L555.50,199.50 L556.00,199.49 L556.50,199.59 L557.00,199.61 L557.50,199.43 L558.00,199.45 L558.50,199.30 L559.00,199.25 L559.50,199.43 L560.00,199.62 L560.50,199.50 L561.00,199.37 L561.50,199.30 L562.00,199.10 L562.50,199.14 L563.00,199.14 L563.50,199.32 L564.00,199.44 L564.50,199.39 L565.00,199.19 L565.50,199.52 L566.00,199.79 L566.50,199.77 L567.00,199.89 L567.50,199.76 L568.00,199.57 L568.50,199.34 L569.00,199.27 L569.50,199.14 L570.00,199.29 L570.50,199.16 L571.00,199.20 L571.50,199.38 L572.00,199.51 L572.50,199.24 L573.00,199.10 L573.50,198.79 L574.00,198.43 L574.50,198.44 L575.00,198.76 L575.50,198.80 L576.00,199.08 L576.50,199.07 L577.00,198.74 L577.50,198.43 L578.00,198.37 L578.50,198.54 L579.00,198.42 L579.50,198.83 L580.00,199.24 L580.50,199.32 L581.00,199.07 L581.50,199.16 L582.00,198.94 L582.50,198.81 L583.00,198.82 L583.50,198.96 L584.00,199.22 L584.50,199.25 L585.00,199.17 L585.50,199.14 L586.00,199.01 L586.50,198.62 L587.00,198.60 L587.50,198.56 L588.00,198.41 L588.50,198.66 L589.00,198.66 L589.50,198.43 L590.00,198.42 L590.50,198.22 L591.00,197.72 L591.50,197.60 L592.00,197.55 L592.50,197.45 L593.00,197.77 L593.50,198.03 L594.00,198.35 L594.50,198.65 L595.00,198.71 L595.50,198.54 L596.00,198.49 L596.50,198.23 L597.00,197.89 L597.50,197.98 L598.00,198.12 L598.50,197.92 L599.00,198.05 L599.50,198.22 L600.00,197.70 L600.50,197.49 L601.00,197.20 L601.50,197.02 L602.00,196.70 L602.50,197.04 L603.00,197.05 L603.50,197.01 L604.00,196.89 L604.50,196.70 L605.00,196.38 L605.50,196.26 L606.00,196.31 L606.50,195.89 L607.00,195.90 L607.50,195.84 L608.00,195.66 L608.50,195.66 L609.00,195.61 L609.50,195.60 L610.00,195.26 L610.50,195.09 L611.00,194.81 L611.50,194.95 L612.00,194.61 L612.50,194.57 L613.00,194.18 L613.50,193.71 L614.00,193.51 L614.50,193.41 L615.00,192.94 L615.50,192.80 L616.00,192.83 L616.50,192.77 L617.00,192.71 L617.50,192.85 L618.00,192.43 L618.50,192.14 L619.00,191.68 L619.50,191.27 L620.00,190.90 L620.50,190.83 L621.00,190.80 L621.50,190.63 L622.00,190.21 L622.50,189.66 L623.00,189.68 L623.50,188.98 L624.00,188.60 L624.50,188.58 L625.00,188.26 L625.50,187.66 L626.00,187.38 L626.50,186.97 L627.00,186.42 L627.50,186.60 L628.00,186.38 L628.50,186.18 L629.00,186.05 L629.50,185.73 L630.00,185.16 L630.50,184.84 L631.00,184.65 L631.50,184.47 L632.00,184.29 L632.50,184.12 L633.00,183.95 L633.50,183.77 L634.00,183.59 L634.50,183.40 L635.00,183.21 L635.50,183.00 L636.00,182.79 L636.50,182.56 L637.00,182.31 L637.50,182.04 L638.00,181.76 L638.50,181.45 L639.00,181.11 L639.50,180.75 L640.00,180.36 L640.50,179.88 L641.00,179.04 L641.50,177.85 L642.00,176.33 L642.50,174.52 L643.00,172.43 L643.50,170.11 L644.00,167.57 L644.50,164.86 L645.00,161.99 L645.50,158.99 L646.00,155.90 L646.50,152.73 L647.00,149.53 L647.50,146.32 L648.00,143.12 L648.50,139.97 L649.00,136.89 L649.50,133.92 L650.00,131.08 L650.50,128.40 L651.00,125.90 L651.50,123.63 L652.00,121.60 L652.50,119.84 L653.00,118.39 L653.50,117.27 L654.00,116.51 L654.50,116.13 L655.00,116.25 L655.50,117.16 L656.00,118.82 L656.50,121.20 L657.00,124.23 L657.50,127.86 L658.00,132.03 L658.50,136.68 L659.00,141.77 L659.50,147.23 L660.00,153.00 L660.50,159.04 L661.00,165.29 L661.50,171.69 L662.00,178.18 L662.50,184.71 L663.00,191.22 L663.50,197.67 L664.00,203.98 L664.50,210.11 L665.00,216.00 L665.50,221.59 L666.00,226.83 L666.50,231.66 L667.00,236.03 L667.50,239.89 L668.00,243.16 L668.50,245.81 L669.00,247.77 L669.50,248.98 L670.00,249.40 L670.50,249.17 L671.00,248.50 L671.50,247.41 L672.00,245.92 L672.50,244.06 L673.00,241.85 L673.50,239.30 L674.00,236.45 L674.50,233.32 L675.00,229.92 L675.50,226.28 L676.00,222.43 L676.50,218.39 L677.00,214.17 L677.50,209.80 L678.00,205.31 L678.50,200.71 L679.00,196.03 L679.50,191.29 L680.00,186.52 L680.50,181.74 L681.00,176.96 L681.50,172.21 L682.00,167.52 L682.50,162.90 L683.00,158.39 L683.50,154.00 L684.00,149.75 L684.50,145.66 L685.00,141.77 L685.50,138.09 L686.00,134.64 L686.50,131.45 L687.00,128.54 L687.50,125.94 L688.00,123.66 L688.50,121.72 L689.00,120.16 L689.50,118.98 L690.00,118.23 L690.50,117.91 L691.00,118.18 L691.50,119.26 L692.00,121.10 L692.50,123.63 L693.00,126.77 L693.50,130.45 L694.00,134.60 L694.50,139.15 L695.00,144.03 L695.50,149.16 L696.00,154.48 L696.50,159.91 L697.00,165.39 L697.50,170.84 L698.00,176.19 L698.50,181.36 L699.00,186.30 L699.50,190.92 L700.00,195.16 L700.50,198.94 L701.00,202.19 L701.50,204.84 L702.00,206.83 L702.50,208.07 L703.00,208.50 L703.50,208.12 L704.00,207.07 L704.50,205.47 L705.00,203.43 L705.50,201.06 L706.00,198.50 L706.50,195.85 L707.00,193.24 L707.50,190.79 L708.00,188.60 L708.50,186.81 L709.00,185.52 L709.50,184.86 L710.00,184.94 L710.50,185.79 L711.00,187.35 L711.50,189.55 L712.00,192.34 L712.50,195.65 L713.00,199.42 L713.50,203.59 L714.00,208.11 L714.50,212.89 L715.00,217.90 L715.50,223.06 L716.00,228.31 L716.50,233.59 L717.00,238.84 L717.50,244.00 L718.00,249.01 L718.50,253.79 L719.00,258.31 L719.50,262.48 L720.00,266.25 L720.50,269.56 L721.00,272.35 L721.50,274.55 L722.00,276.11 L722.50,276.96 L723.00,277.06 L723.50,276.61 L724.00,275.70 L724.50,274.33 L725.00,272.53 L725.50,270.34 L726.00,267.76 L726.50,264.83 L727.00,261.57 L727.50,257.99 L728.00,254.14 L728.50,250.02 L729.00,245.66 L729.50,241.09 L730.00,236.33 L730.50,231.40 L731.00,226.33 L731.50,221.14 L732.00,215.85 L732.50,210.49 L733.00,205.08 L733.50,199.64 L734.00,194.21 L734.50,188.79 L735.00,183.41 L735.50,178.11 L736.00,172.90 L736.50,167.80 L737.00,162.84 L737.50,158.04 L738.00,153.43 L738.50,149.03 L739.00,144.87 L739.50,140.95 L740.00,137.32 L740.50,134.00 L741.00,131.00 L741.50,128.35 L742.00,126.07 L742.50,124.20 L743.00,122.74 L743.50,121.73 L744.00,121.19 L744.50,121.17 L745.00,121.91 L745.50,123.41 L746.00,125.61 L746.50,128.44 L747.00,131.84 L747.50,135.75 L748.00,140.09 L748.50,144.81 L749.00,149.84 L749.50,155.12 L750.00,160.58 L750.50,166.15 L751.00,171.78 L751.50,177.39 L752.00,182.92 L752.50,188.32 L753.00,193.50 L753.50,198.41 L754.00,202.99 L754.50,207.17 L755.00,210.88 L755.50,214.06 L756.00,216.65 L756.50,218.58 L757.00,219.78 L757.50,220.20 L758.00,219.83 L758.50,218.80 L759.00,217.21 L759.50,215.17 L760.00,212.77 L760.50,210.13 L761.00,207.33 L761.50,204.50 L762.00,201.73 L762.50,199.13 L763.00,196.79 L763.50,194.83 L764.00,193.34 L764.50,192.44 L765.00,192.22 L765.50,192.75 L766.00,194.01 L766.50,195.93 L767.00,198.45 L767.50,201.50 L768.00,205.03 L768.50,208.97 L769.00,213.27 L769.50,217.85 L770.00,222.66 L770.50,227.63 L771.00,232.71 L771.50,237.84 L772.00,242.94 L772.50,247.97 L773.00,252.85 L773.50,257.53 L774.00,261.95 L774.50,266.04 L775.00,269.74 L775.50,272.99 L776.00,275.73 L776.50,277.89 L777.00,279.42 L777.50,280.26 L778.00,280.35 L778.50,279.80 L779.00,278.66 L779.50,276.98 L780.00,274.79 L780.50,272.12 L781.00,269.00 L781.50,265.48 L782.00,261.58 L782.50,257.35 L783.00,252.81 L783.50,248.01 L784.00,242.97 L784.50,237.73 L785.00,232.33 L785.50,226.80 L786.00,221.18 L786.50,215.49 L787.00,209.79 L787.50,204.09 L788.00,198.44 L788.50,192.87 L789.00,187.41 L789.50,182.10 L790.00,176.98 L790.50,172.08 L791.00,167.43 L791.50,163.07 L792.00,159.04 L792.50,155.36 L793.00,152.08 L793.50,149.23 L794.00,146.84 L794.50,144.95 L795.00,143.59 L795.50,142.80 L796.00,142.62 L796.50,143.20 L797.00,144.56 L797.50,146.66 L798.00,149.45 L798.50,152.86 L799.00,156.84 L799.50,161.35 L800.00,166.33 L800.50,171.72 L801.00,177.48 L801.50,183.55 L802.00,189.88 L802.50,196.42 L803.00,203.11 L803.50,209.90 L804.00,216.73 L804.50,223.57 L805.00,230.34 L805.50,237.00 L806.00,243.50 L806.50,249.78 L807.00,255.80 L807.50,261.49 L808.00,266.80 L808.50,271.69 L809.00,276.10 L809.50,279.97 L810.00,283.26 L810.50,285.91 L811.00,287.87 L811.50,289.08 L812.00,289.50 L812.50,289.28 L813.00,288.65 L813.50,287.63 L814.00,286.26 L814.50,284.55 L815.00,282.53 L815.50,280.24 L816.00,277.70 L816.50,274.94 L817.00,271.99 L817.50,268.87 L818.00,265.61 L818.50,262.24 L819.00,258.79 L819.50,255.28 L820.00,251.75 L820.50,248.22 L821.00,244.71 L821.50,241.26 L822.00,237.89 L822.50,234.63 L823.00,231.51 L823.50,228.56 L824.00,225.80 L824.50,223.26 L825.00,220.97 L825.50,218.95 L826.00,217.24 L826.50,215.87 L827.00,214.85 L827.50,214.22 L828.00,214.00 L828.50,214.09 L829.00,214.34 L829.50,214.69 L830.00,215.08 L830.50,215.46 L831.00,215.77 L831.50,215.96 L832.00,215.99 L832.50,215.91 L833.00,215.74 L833.50,215.49 L834.00,215.18 L834.50,214.81 L835.00,214.39 L835.50,213.95 L836.00,213.47 L836.50,212.98 L837.00,212.49 L837.50,212.00 L838.00,211.53 L838.50,211.08 L839.00,210.67 L839.50,210.31 L840.00,210.00 L840.50,209.72 L841.00,209.45 L841.50,209.17 L842.00,208.90 L842.50,208.62 L843.00,208.35 L843.50,208.08 L844.00,207.81 L844.50,207.55 L845.00,207.28 L845.50,207.02 L846.00,206.76 L846.50,206.51 L847.00,206.25 L847.50,206.01 L848.00,205.76 L848.50,205.52 L849.00,205.28 L849.50,205.05 L850.00,204.82 L850.50,204.60 L851.00,204.38 L851.50,204.17 L852.00,203.96 L852.50,203.76 L853.00,203.57 L853.50,203.38 L854.00,203.20 L854.50,203.02 L855.00,202.85 L855.50,202.69 L856.00,202.54 L856.50,202.39 L857.00,202.25 L857.50,202.12 L858.00,202.00 L858.50,201.89 L859.00,201.78 L859.50,201.69 L860.00,201.53 L860.50,201.61 L861.00,201.42 L861.50,201.08 L862.00,201.11 L862.50,201.44 L863.00,201.27 L863.50,201.40 L864.00,201.43 L864.50,201.22 L865.00,201.13 L865.50,201.16 L866.00,200.91 L866.50,200.72 L867.00,200.66 L867.50,200.42 L868.00,200.14 L868.50,200.37 L869.00,200.37 L869.50,200.34 L870.00,200.44 L870.50,200.63 L871.00,200.40 L871.50,200.43 L872.00,200.28 L872.50,200.43 L873.00,200.30 L873.50,200.44 L874.00,200.10 L874.50,200.04 L875.00,200.03 L875.50,200.10 L876.00,199.81 L876.50,200.15 L877.00,200.13 L877.50,199.97 L878.00,199.62 L878.50,199.64 L879.00,199.45 L879.50,199.69 L880.00,199.79 L880.50,199.99 L881.00,200.30 L881.50,200.29 L882.00,199.86 L882.50,199.33 L883.00,199.69 L883.50,199.40 L884.00,199.37 L884.50,199.56 L885.00,199.75 L885.50,199.70 L886.00,199.69 L886.50,200.05 L887.00,200.12 L887.50,199.91 L888.00,199.81 L888.50,199.75 L889.00,199.41 L889.50,199.68 L890.00,199.99 L890.50,200.02 L891.00,200.07 L891.50,199.97 L892.00,199.78 L892.50,199.72 L893.00,199.71 L893.50,199.85 L894.00,199.96 L894.50,199.96 L895.00,200.13 L895.50,199.88 L896.00,199.86 L896.50,199.80 L897.00,199.78 L897.50,199.53 L898.00,199.57 L898.50,199.48 L899.00,199.38 L899.50,199.20 L900.00,199.26 L900.50,199.34 L901.00,199.15 L901.50,199.33 L902.00,199.63 L902.50,199.76 L903.00,199.37 L903.50,199.49 L904.00,199.58 L904.50,199.28 L905.00,199.39 L905.50,199.73 L906.00,199.76 L906.50,199.54 L907.00,199.50 L907.50,199.27 L908.00,199.17 L908.50,199.18 L909.00,199.27 L909.50,199.30 L910.00,199.34 L910.50,199.38 L911.00,199.03 L911.50,198.83 L912.00,198.74 L912.50,198.69 L913.00,198.57 L913.50,198.78 L914.00,198.75 L914.50,198.98 L915.00,199.04 L915.50,198.82 L916.00,198.85 L916.50,198.80 L917.00,198.96 L917.50,198.83 L918.00,199.02 L918.50,199.02 L919.00,199.16 L919.50,198.87 L920.00,199.18 L920.50,199.27 L921.00,199.38 L921.50,199.59 L922.00,199.43 L922.50,199.45 L923.00,199.51 L923.50,199.53 L924.00,199.20 L924.50,199.48 L925.00,199.27 L925.50,199.07 L926.00,199.27 L926.50,199.49 L927.00,199.32 L927.50,199.28 L928.00,199.50 L928.50,199.31 L929.00,199.31 L929.50,199.54 L930.00,199.73 L930.50,199.39 L931.00,199.13 L931.50,198.88 L932.00,198.70 L932.50,198.69 L933.00,198.98 L933.50,198.89 L934.00,198.99 L934.50,199.13 L935.00,198.81 L935.50,198.69 L936.00,198.90 L936.50,198.65 L937.00,198.61 L937.50,198.74 L938.00,198.85 L938.50,198.64 L939.00,198.80 L939.50,198.58 L940.00,198.56 L940.50,198.48 L941.00,198.65 L941.50,199.06 L942.00,199.36 L942.50,199.20 L943.00,199.08 L943.50,199.33 L944.00,198.99 L944.50,199.00 L945.00,199.37 L945.50,199.39 L946.00,199.07 L946.50,199.13 L947.00,198.77 L947.50,198.36 L948.00,198.39 L948.50,198.56 L949.00,198.48 L949.50,198.58 L950.00,198.66 L950.50,198.51 L951.00,198.61 L951.50,198.31 L952.00,198.24 L952.50,198.40" fill="none" stroke="#e3101f" stroke-width="2.8" stroke-linejoin="round" stroke-linecap="round"/>
<path d="M534.50,312.10 L535.00,311.81 L535.50,311.58 L536.00,311.59 L536.50,311.01 L537.00,311.15 L537.50,311.42 L538.00,311.44 L538.50,311.15 L539.00,311.46 L539.50,311.25 L540.00,311.17 L540.50,311.11 L541.00,310.86 L541.50,311.12 L542.00,310.83 L542.50,310.45 L543.00,310.23 L543.50,310.49 L544.00,310.32 L544.50,310.37 L545.00,310.87 L545.50,310.87 L546.00,311.50 L546.50,311.50 L547.00,312.09 L547.50,311.82 L548.00,312.16 L548.50,311.50 L549.00,311.51 L549.50,311.24 L550.00,311.12 L550.50,310.75 L551.00,310.71 L551.50,310.27 L552.00,309.98 L552.50,310.11 L553.00,310.05 L553.50,310.31 L554.00,310.73 L554.50,310.61 L555.00,310.69 L555.50,310.99 L556.00,310.92 L556.50,310.66 L557.00,311.09 L557.50,311.38 L558.00,311.52 L558.50,311.52 L559.00,312.07 L559.50,312.26 L560.00,312.01 L560.50,311.84 L561.00,312.12 L561.50,311.55 L562.00,311.27 L562.50,311.36 L563.00,311.24 L563.50,310.94 L564.00,310.78 L564.50,310.58 L565.00,310.16 L565.50,310.77 L566.00,311.13 L566.50,311.71 L567.00,311.88 L567.50,312.49 L568.00,312.28 L568.50,312.18 L569.00,312.11 L569.50,311.86 L570.00,311.74 L570.50,311.37 L571.00,310.91 L571.50,310.48 L572.00,310.76 L572.50,310.88 L573.00,310.71 L573.50,311.31 L574.00,311.85 L574.50,311.68 L575.00,311.36 L575.50,311.63 L576.00,311.47 L576.50,311.08 L577.00,310.93 L577.50,311.09 L578.00,310.68 L578.50,310.50 L579.00,310.82 L579.50,311.10 L580.00,311.19 L580.50,311.72 L581.00,311.84 L581.50,311.62 L582.00,311.39 L582.50,311.18 L583.00,311.06 L583.50,311.16 L584.00,311.46 L584.50,311.72 L585.00,311.61 L585.50,311.47 L586.00,311.17 L586.50,311.12 L587.00,311.10 L587.50,311.24 L588.00,311.23 L588.50,311.44 L589.00,311.21 L589.50,311.13 L590.00,311.16 L590.50,311.66 L591.00,311.45 L591.50,311.73 L592.00,312.00 L592.50,311.98 L593.00,311.81 L593.50,311.82 L594.00,311.29 L594.50,310.98 L595.00,310.78 L595.50,310.70 L596.00,310.72 L596.50,311.01 L597.00,311.23 L597.50,310.77 L598.00,310.73 L598.50,310.35 L599.00,310.26 L599.50,309.91 L600.00,310.57 L600.50,310.78 L601.00,310.80 L601.50,310.80 L602.00,310.95 L602.50,310.54 L603.00,310.38 L603.50,310.73 L604.00,310.58 L604.50,310.44 L605.00,311.48 L605.50,311.25 L606.00,310.86 L606.50,310.77 L607.00,310.83 L607.50,310.07 L608.00,310.12 L608.50,310.27 L609.00,310.56 L609.50,310.52 L610.00,310.30 L610.50,310.14 L611.00,310.26 L611.50,310.31 L612.00,310.49 L612.50,310.68 L613.00,310.84 L613.50,310.95 L614.00,311.18 L614.50,310.93 L615.00,311.08 L615.50,311.21 L616.00,310.95 L616.50,310.55 L617.00,310.69 L617.50,310.48 L618.00,310.43 L618.50,310.82 L619.00,311.00 L619.50,310.91 L620.00,311.03 L620.50,311.38 L621.00,310.92 L621.50,310.71 L622.00,310.92 L622.50,310.89 L623.00,310.53 L623.50,310.77 L624.00,310.87 L624.50,310.93 L625.00,310.84 L625.50,310.73 L626.00,310.66 L626.50,310.41 L627.00,310.12 L627.50,309.92 L628.00,310.02 L628.50,310.37 L629.00,310.79 L629.50,311.04 L630.00,311.06 L630.50,311.21 L631.00,310.70 L631.50,310.33 L632.00,310.43 L632.50,310.40 L633.00,310.25 L633.50,310.45 L634.00,310.42 L634.50,309.85 L635.00,310.15 L635.50,309.87 L636.00,310.02 L636.50,310.30 L637.00,310.19 L637.50,309.99 L638.00,310.02 L638.50,309.56 L639.00,309.07 L639.50,309.37 L640.00,309.43 L640.50,309.16 L641.00,309.29 L641.50,309.63 L642.00,309.37 L642.50,309.22 L643.00,309.89 L643.50,310.28 L644.00,309.84 L644.50,309.81 L645.00,310.08 L645.50,309.51 L646.00,309.19 L646.50,309.44 L647.00,309.84 L647.50,309.25 L648.00,309.04 L648.50,308.85 L649.00,309.16 L649.50,309.01 L650.00,309.19 L650.50,309.75 L651.00,310.16 L651.50,309.91 L652.00,309.88 L652.50,310.33 L653.00,310.49 L653.50,310.38 L654.00,310.55 L654.50,310.62 L655.00,310.46 L655.50,310.03 L656.00,310.06 L656.50,309.90 L657.00,309.87 L657.50,310.15 L658.00,310.45 L658.50,310.59 L659.00,310.33 L659.50,310.51 L660.00,310.21 L660.50,309.95 L661.00,309.61 L661.50,310.19 L662.00,310.26 L662.50,310.25 L663.00,310.19 L663.50,310.38 L664.00,310.05 L664.50,310.23 L665.00,310.09 L665.50,309.96 L666.00,309.92 L666.50,310.03 L667.00,309.72 L667.50,310.19 L668.00,311.01 L668.50,311.00 L669.00,310.90 L669.50,310.52 L670.00,310.43 L670.50,310.19 L671.00,310.22 L671.50,310.59 L672.00,310.97 L672.50,311.25 L673.00,311.15 L673.50,311.00 L674.00,310.64 L674.50,310.33 L675.00,309.67 L675.50,309.67 L676.00,310.08 L676.50,310.62 L677.00,310.94 L677.50,311.26 L678.00,310.99 L678.50,311.02 L679.00,310.71 L679.50,310.61 L680.00,310.82 L680.50,311.17 L681.00,310.59 L681.50,310.68 L682.00,310.84 L682.50,310.62 L683.00,310.43 L683.50,311.19 L684.00,311.36 L684.50,311.72 L685.00,311.58 L685.50,311.54 L686.00,311.37 L686.50,310.81 L687.00,310.30 L687.50,310.17 L688.00,310.69 L688.50,310.74 L689.00,311.09 L689.50,311.29 L690.00,311.58 L690.50,311.12 L691.00,311.04 L691.50,310.80 L692.00,311.02 L692.50,311.01 L693.00,310.91 L693.50,311.06 L694.00,311.18 L694.50,311.05 L695.00,311.07 L695.50,310.79 L696.00,310.63 L696.50,310.39 L697.00,310.50 L697.50,310.27 L698.00,310.35 L698.50,310.30 L699.00,310.67 L699.50,310.47 L700.00,310.54 L700.50,311.11 L701.00,310.74 L701.50,310.56 L702.00,310.37 L702.50,310.54 L703.00,310.54 L703.50,310.71 L704.00,310.92 L704.50,311.23 L705.00,310.95 L705.50,310.53 L706.00,310.59 L706.50,310.35 L707.00,310.27 L707.50,310.22 L708.00,310.61 L708.50,310.84 L709.00,310.93 L709.50,310.58 L710.00,310.98 L710.50,310.72 L711.00,310.69 L711.50,310.70 L712.00,311.14 L712.50,311.05 L713.00,311.46 L713.50,310.87 L714.00,310.67 L714.50,310.62 L715.00,310.40 L715.50,310.26 L716.00,310.48 L716.50,310.71 L717.00,310.42 L717.50,310.64 L718.00,310.52 L718.50,310.75 L719.00,310.66 L719.50,311.29 L720.00,311.38 L720.50,311.15 L721.00,311.36 L721.50,311.61 L722.00,311.41 L722.50,311.78 L723.00,311.79 L723.50,311.82 L724.00,311.88 L724.50,311.63 L725.00,311.31 L725.50,310.88 L726.00,310.55 L726.50,310.68 L727.00,310.31 L727.50,310.15 L728.00,310.83 L728.50,311.07 L729.00,311.04 L729.50,311.04 L730.00,311.16 L730.50,311.28 L731.00,310.89 L731.50,310.54 L732.00,311.30 L732.50,311.56 L733.00,311.49 L733.50,311.22 L734.00,311.21 L734.50,310.90 L735.00,310.56 L735.50,310.44 L736.00,311.61 L736.50,311.59 L737.00,311.31 L737.50,311.43 L738.00,311.38 L738.50,310.68 L739.00,310.70 L739.50,311.06 L740.00,311.06 L740.50,310.88 L741.00,310.92 L741.50,311.03 L742.00,310.78 L742.50,310.96 L743.00,311.37 L743.50,311.19 L744.00,311.16 L744.50,311.67 L745.00,311.75 L745.50,311.58 L746.00,311.97 L746.50,311.77 L747.00,311.06 L747.50,310.85 L748.00,310.91 L748.50,310.83 L749.00,310.97 L749.50,311.33 L750.00,311.11 L750.50,311.16 L751.00,311.23 L751.50,311.22 L752.00,311.32 L752.50,311.06 L753.00,310.80 L753.50,310.93 L754.00,311.30 L754.50,311.19 L755.00,311.53 L755.50,311.43 L756.00,311.21 L756.50,311.00 L757.00,310.65 L757.50,310.78 L758.00,311.15 L758.50,311.16 L759.00,310.77 L759.50,311.19 L760.00,310.76 L760.50,310.97 L761.00,310.91 L761.50,310.90 L762.00,311.06 L762.50,311.61 L763.00,311.17 L763.50,311.60 L764.00,311.63 L764.50,311.42 L765.00,311.42 L765.50,311.09 L766.00,310.84 L766.50,311.03 L767.00,310.97 L767.50,310.50 L768.00,311.04 L768.50,310.60 L769.00,310.41 L769.50,310.32 L770.00,310.29 L770.50,310.55 L771.00,310.50 L771.50,310.55 L772.00,310.58 L772.50,310.83 L773.00,310.67 L773.50,311.11 L774.00,311.21 L774.50,311.19 L775.00,311.20 L775.50,311.20 L776.00,311.18 L776.50,311.14 L777.00,310.79 L777.50,311.22 L778.00,311.25 L778.50,311.16 L779.00,311.34 L779.50,311.66 L780.00,311.01 L780.50,310.74 L781.00,310.64 L781.50,310.44 L782.00,310.25 L782.50,310.39 L783.00,310.58 L783.50,310.52 L784.00,310.66 L784.50,310.53 L785.00,310.55 L785.50,310.41 L786.00,310.26 L786.50,309.89 L787.00,310.41 L787.50,310.28 L788.00,310.41 L788.50,310.57 L789.00,311.06 L789.50,310.91 L790.00,310.76 L790.50,310.64 L791.00,310.66 L791.50,310.67 L792.00,310.65 L792.50,310.88 L793.00,311.07 L793.50,311.38 L794.00,311.40 L794.50,311.71 L795.00,311.88 L795.50,311.86 L796.00,311.81 L796.50,311.73 L797.00,311.53 L797.50,311.47 L798.00,311.80 L798.50,311.62 L799.00,311.49 L799.50,311.40 L800.00,311.37 L800.50,310.92 L801.00,310.69 L801.50,310.33 L802.00,310.46 L802.50,310.14 L803.00,310.14 L803.50,310.40 L804.00,311.05 L804.50,311.33 L805.00,311.74 L805.50,311.57 L806.00,311.30 L806.50,310.90 L807.00,310.56 L807.50,310.06 L808.00,310.19 L808.50,310.43 L809.00,310.73 L809.50,310.65 L810.00,311.10 L810.50,310.93 L811.00,310.84 L811.50,310.34 L812.00,310.43 L812.50,310.73 L813.00,310.92 L813.50,311.09 L814.00,311.25 L814.50,311.52 L815.00,311.04 L815.50,311.18 L816.00,311.12 L816.50,311.13 L817.00,311.04 L817.50,311.20 L818.00,311.08 L818.50,311.15 L819.00,311.34 L819.50,311.05 L820.00,311.14 L820.50,311.02 L821.00,310.94 L821.50,310.81 L822.00,310.58 L822.50,310.35 L823.00,310.33 L823.50,310.32 L824.00,310.70 L824.50,310.66 L825.00,310.82 L825.50,310.47 L826.00,310.25 L826.50,309.90 L827.00,309.78 L827.50,309.37 L828.00,309.86 L828.50,310.09 L829.00,310.18 L829.50,310.47 L830.00,311.30 L830.50,311.24 L831.00,311.04 L831.50,311.41 L832.00,311.71 L832.50,311.19 L833.00,311.46 L833.50,311.68 L834.00,311.46 L834.50,311.38 L835.00,311.25 L835.50,311.20 L836.00,311.20 L836.50,310.86 L837.00,310.66 L837.50,311.06 L838.00,310.79 L838.50,310.76 L839.00,311.11 L839.50,311.29 L840.00,310.78 L840.50,310.99 L841.00,311.17 L841.50,311.22 L842.00,311.52 L842.50,311.91 L843.00,311.94 L843.50,312.08 L844.00,311.84 L844.50,311.86 L845.00,312.15 L845.50,312.15 L846.00,312.20 L846.50,312.43 L847.00,311.89 L847.50,311.77 L848.00,311.68 L848.50,311.38 L849.00,311.24 L849.50,311.70 L850.00,311.58 L850.50,311.37 L851.00,311.38 L851.50,311.50 L852.00,311.07 L852.50,310.87 L853.00,310.93 L853.50,310.71 L854.00,310.63 L854.50,310.99 L855.00,311.47 L855.50,311.79 L856.00,312.13 L856.50,312.29 L857.00,312.36 L857.50,311.89 L858.00,311.79 L858.50,311.64 L859.00,311.38 L859.50,311.01 L860.00,310.98 L860.50,310.79 L861.00,310.46 L861.50,310.60 L862.00,310.69 L862.50,310.81 L863.00,310.94 L863.50,311.34 L864.00,311.11 L864.50,311.10 L865.00,310.74 L865.50,310.22 L866.00,309.67 L866.50,310.10 L867.00,309.75 L867.50,310.18 L868.00,310.94 L868.50,311.25 L869.00,311.27 L869.50,312.03 L870.00,312.12 L870.50,312.31 L871.00,312.53 L871.50,312.04 L872.00,311.77 L872.50,311.49 L873.00,310.73 L873.50,310.34 L874.00,310.96 L874.50,310.75 L875.00,310.83 L875.50,310.97 L876.00,311.26 L876.50,310.73 L877.00,310.76 L877.50,310.52 L878.00,310.36 L878.50,310.18 L879.00,310.29 L879.50,310.81 L880.00,311.27 L880.50,311.94 L881.00,312.20 L881.50,312.12 L882.00,311.42 L882.50,311.20 L883.00,310.38 L883.50,310.22 L884.00,310.58 L884.50,310.92 L885.00,311.15 L885.50,311.51 L886.00,311.29 L886.50,310.86 L887.00,310.71 L887.50,310.73 L888.00,311.21 L888.50,311.34 L889.00,311.37 L889.50,311.42 L890.00,311.10 L890.50,310.44 L891.00,310.61 L891.50,310.76 L892.00,310.87 L892.50,310.69 L893.00,310.93 L893.50,310.55 L894.00,310.66 L894.50,310.37 L895.00,310.57 L895.50,310.50 L896.00,310.74 L896.50,310.33 L897.00,310.17 L897.50,310.59 L898.00,310.74 L898.50,310.91 L899.00,311.56 L899.50,311.91 L900.00,311.66 L900.50,311.62 L901.00,311.81 L901.50,311.48 L902.00,311.56 L902.50,311.40 L903.00,311.45 L903.50,311.45 L904.00,310.91 L904.50,310.82 L905.00,310.79 L905.50,310.67 L906.00,310.02 L906.50,310.60 L907.00,310.45 L907.50,310.49 L908.00,310.45 L908.50,310.51 L909.00,310.27 L909.50,310.07 L910.00,309.92 L910.50,309.96 L911.00,310.30 L911.50,310.40 L912.00,310.76 L912.50,311.39 L913.00,311.55 L913.50,311.30 L914.00,311.16 L914.50,311.05 L915.00,310.57 L915.50,310.36 L916.00,310.43 L916.50,310.90 L917.00,311.05 L917.50,311.01 L918.00,311.09 L918.50,311.22 L919.00,311.16 L919.50,311.25 L920.00,311.56 L920.50,310.96 L921.00,311.08 L921.50,311.01 L922.00,311.32 L922.50,311.09 L923.00,311.38 L923.50,311.43 L924.00,311.09 L924.50,310.32 L925.00,310.18 L925.50,310.75 L926.00,310.88 L926.50,311.15 L927.00,311.31 L927.50,311.95 L928.00,311.50 L928.50,311.23 L929.00,310.78 L929.50,311.27 L930.00,310.85 L930.50,311.27 L931.00,311.31 L931.50,311.59 L932.00,311.35 L932.50,310.87 L933.00,310.90 L933.50,311.07 L934.00,311.00 L934.50,310.96 L935.00,311.41 L935.50,311.53 L936.00,311.43 L936.50,311.52 L937.00,311.42 L937.50,311.05 L938.00,310.60 L938.50,310.53 L939.00,310.47 L939.50,310.59 L940.00,311.05 L940.50,311.27 L941.00,311.31 L941.50,311.50 L942.00,311.52 L942.50,311.36 L943.00,311.37 L943.50,310.95 L944.00,311.08 L944.50,310.77 L945.00,310.95 L945.50,310.86 L946.00,311.44 L946.50,311.19 L947.00,311.27 L947.50,311.31 L948.00,311.35 L948.50,311.15 L949.00,311.16 L949.50,311.56 L950.00,311.51 L950.50,311.52 L951.00,311.17 L951.50,311.07 L952.00,310.89 L952.50,311.09" fill="none" stroke="#111" stroke-width="2.8" stroke-linejoin="round" stroke-linecap="round"/>
<line x1="25.80" y1="722.90" x2="413.00" y2="722.90" stroke="#000" stroke-width="2.4"/>
<line x1="26.88" y1="722.90" x2="26.88" y2="726.40" stroke="#000" stroke-width="2.2"/>
<line x1="58.75" y1="722.90" x2="58.75" y2="728.40" stroke="#000" stroke-width="2.2"/>
<line x1="90.62" y1="722.90" x2="90.62" y2="726.40" stroke="#000" stroke-width="2.2"/>
<line x1="122.50" y1="722.90" x2="122.50" y2="728.40" stroke="#000" stroke-width="2.2"/>
<line x1="154.38" y1="722.90" x2="154.38" y2="726.40" stroke="#000" stroke-width="2.2"/>
<line x1="186.25" y1="722.90" x2="186.25" y2="728.40" stroke="#000" stroke-width="2.2"/>
<line x1="218.12" y1="722.90" x2="218.12" y2="726.40" stroke="#000" stroke-width="2.2"/>
<line x1="250.00" y1="722.90" x2="250.00" y2="728.40" stroke="#000" stroke-width="2.2"/>
<line x1="281.88" y1="722.90" x2="281.88" y2="726.40" stroke="#000" stroke-width="2.2"/>
<line x1="313.75" y1="722.90" x2="313.75" y2="728.40" stroke="#000" stroke-width="2.2"/>
<line x1="345.62" y1="722.90" x2="345.62" y2="726.40" stroke="#000" stroke-width="2.2"/>
<line x1="377.50" y1="722.90" x2="377.50" y2="728.40" stroke="#000" stroke-width="2.2"/>
<line x1="409.38" y1="722.90" x2="409.38" y2="726.40" stroke="#000" stroke-width="2.2"/>
<text transform="translate(41.98,749.30) scale(0.9650,1)" fill="#000" xml:space="preserve"><tspan font-size="21.00" font-weight="bold">300</tspan></text>
<text transform="translate(105.73,749.30) scale(0.9650,1)" fill="#000" xml:space="preserve"><tspan font-size="21.00" font-weight="bold">310</tspan></text>
<text transform="translate(169.48,749.30) scale(0.9650,1)" fill="#000" xml:space="preserve"><tspan font-size="21.00" font-weight="bold">320</tspan></text>
<text transform="translate(233.23,749.30) scale(0.9650,1)" fill="#000" xml:space="preserve"><tspan font-size="21.00" font-weight="bold">330</tspan></text>
<text transform="translate(296.98,749.30) scale(0.9650,1)" fill="#000" xml:space="preserve"><tspan font-size="21.00" font-weight="bold">340</tspan></text>
<text transform="translate(360.73,749.30) scale(0.9650,1)" fill="#000" xml:space="preserve"><tspan font-size="21.00" font-weight="bold">350</tspan></text>
<path d="M24.20,425.67 L24.65,433.92 L25.10,437.25 L25.55,435.27 L26.00,436.93 L26.45,437.40 L26.90,440.23 L27.35,439.27 L27.80,440.49 L28.25,433.42 L28.70,437.31 L29.15,430.51 L29.60,428.58 L30.05,422.87 L30.50,418.51 L30.95,419.59 L31.40,420.02 L31.85,417.82 L32.30,418.49 L32.75,424.44 L33.20,426.20 L33.65,427.13 L34.10,432.55 L34.55,431.81 L35.00,430.45 L35.45,433.50 L35.90,434.67 L36.35,433.07 L36.80,429.34 L37.25,426.99 L37.70,422.73 L38.15,415.63 L38.60,412.61 L39.05,415.84 L39.50,418.91 L39.95,419.96 L40.40,424.67 L40.85,427.88 L41.30,427.22 L41.75,427.66 L42.20,430.86 L42.65,429.65 L43.10,427.61 L43.55,417.64 L44.00,413.54 L44.45,409.01 L44.90,405.53 L45.35,410.44 L45.80,414.14 L46.25,415.18 L46.70,422.66 L47.15,423.40 L47.60,422.69 L48.05,420.21 L48.50,418.39 L48.95,410.81 L49.40,412.00 L49.85,408.73 L50.30,400.45 L50.75,401.22 L51.20,397.01 L51.65,396.85 L52.10,393.36 L52.55,395.01 L53.00,398.61 L53.45,399.80 L53.90,406.06 L54.35,408.66 L54.80,414.35 L55.25,416.72 L55.70,423.66 L56.15,425.16 L56.60,424.19 L57.05,424.32 L57.50,422.48 L57.95,419.40 L58.40,408.03 L58.85,408.36 L59.30,403.57 L59.75,399.66 L60.20,396.79 L60.65,401.51 L61.10,397.02 L61.55,401.54 L62.00,404.15 L62.45,399.71 L62.90,404.93 L63.35,408.94 L63.80,418.71 L64.25,425.49 L64.70,426.05 L65.15,415.01 L65.60,412.73 L66.05,410.96 L66.50,410.35 L66.95,408.93 L67.40,409.85 L67.85,415.79 L68.30,417.82 L68.75,416.39 L69.20,407.76 L69.65,400.21 L70.10,392.52 L70.55,394.04 L71.00,404.96 L71.45,411.97 L71.90,417.57 L72.35,422.76 L72.80,426.56 L73.25,430.53 L73.70,436.50 L74.15,443.09 L74.60,449.64 L75.05,450.16 L75.50,446.59 L75.95,440.15 L76.40,433.92 L76.85,427.59 L77.30,418.43 L77.75,408.99 L78.20,400.29 L78.65,392.92 L79.10,390.41 L79.55,392.31 L80.00,397.60 L80.45,405.10 L80.90,412.92 L81.35,421.37 L81.80,430.54 L82.25,443.66 L82.70,455.82 L83.15,466.14 L83.60,470.98 L84.05,469.77 L84.50,468.16 L84.95,465.08 L85.40,461.48 L85.85,456.85 L86.30,450.12 L86.75,436.05 L87.20,418.89 L87.65,402.81 L88.10,391.89 L88.55,390.15 L89.00,402.62 L89.45,424.02 L89.90,447.75 L90.35,466.90 L90.80,476.34 L91.25,484.55 L91.70,491.45 L92.15,497.41 L92.60,501.41 L93.05,503.31 L93.50,502.21 L93.95,491.50 L94.40,472.48 L94.85,453.21 L95.30,438.13 L95.75,422.65 L96.20,409.08 L96.65,399.07 L97.10,396.44 L97.55,400.39 L98.00,408.60 L98.45,419.96 L98.90,432.43 L99.35,446.28 L99.80,458.44 L100.25,472.85 L100.70,489.72 L101.15,506.48 L101.60,518.55 L102.05,522.21 L102.50,507.08 L102.95,483.26 L103.40,466.60 L103.85,450.30 L104.30,434.37 L104.75,421.10 L105.20,411.29 L105.65,407.35 L106.10,407.09 L106.55,409.33 L107.00,411.02 L107.45,413.90 L107.90,420.72 L108.35,433.98 L108.80,451.04 L109.25,467.40 L109.70,480.34 L110.15,487.93 L110.60,495.18 L111.05,500.67 L111.50,505.29 L111.95,509.51 L112.40,511.20 L112.85,512.53 L113.30,507.33 L113.75,500.45 L114.20,490.88 L114.65,480.08 L115.10,471.60 L115.55,465.27 L116.00,462.56 L116.45,464.96 L116.90,471.56 L117.35,479.94 L117.80,489.36 L118.25,497.67 L118.70,503.94 L119.15,505.32 L119.60,501.53 L120.05,491.46 L120.50,479.10 L120.95,467.60 L121.40,458.88 L121.85,452.84 L122.30,446.75 L122.75,442.01 L123.20,437.22 L123.65,434.09 L124.10,432.43 L124.55,432.01 L125.00,436.70 L125.45,442.66 L125.90,450.68 L126.35,458.78 L126.80,466.55 L127.25,472.91 L127.70,476.99 L128.15,477.29 L128.60,474.28 L129.05,470.53 L129.50,464.79 L129.95,458.43 L130.40,453.43 L130.85,448.47 L131.30,444.36 L131.75,442.65 L132.20,442.77 L132.65,443.03 L133.10,440.89 L133.55,445.08 L134.00,446.05 L134.45,446.15 L134.90,449.33 L135.35,450.99 L135.80,445.67 L136.25,448.12 L136.70,448.44 L137.15,447.60 L137.60,447.87 L138.05,443.67 L138.50,445.51 L138.95,447.70 L139.40,443.96 L139.85,439.91 L140.30,443.23 L140.75,445.58 L141.20,442.59 L141.65,439.60 L142.10,447.64 L142.55,438.06 L143.00,444.81 L143.45,443.34 L143.90,439.52 L144.35,448.64 L144.80,445.94 L145.25,440.94 L145.70,447.77 L146.15,444.52 L146.60,439.71 L147.05,444.58 L147.50,448.54 L147.95,450.45 L148.40,449.35 L148.85,449.52 L149.30,451.66 L149.75,449.80 L150.20,455.36 L150.65,452.17 L151.10,453.16 L151.55,454.51 L152.00,449.24 L152.45,450.98 L152.90,459.52 L153.35,455.68 L153.80,453.87 L154.25,456.49 L154.70,453.84 L155.15,456.81 L155.60,453.56 L156.05,456.99 L156.50,450.06 L156.95,459.94 L157.40,452.46 L157.85,447.64 L158.30,451.52 L158.75,450.06 L159.20,451.17 L159.65,446.01 L160.10,451.43 L160.55,463.09 L161.00,445.55 L161.45,451.54 L161.90,449.42 L162.35,451.48 L162.80,444.56 L163.25,447.26 L163.70,453.41 L164.15,452.02 L164.60,458.83 L165.05,451.52 L165.50,455.94 L165.95,466.99 L166.40,454.70 L166.85,454.71 L167.30,457.73 L167.75,457.01 L168.20,459.10 L168.65,455.14 L169.10,450.44 L169.55,452.45 L170.00,459.91 L170.45,454.04 L170.90,439.00 L171.35,448.50 L171.80,445.93 L172.25,451.41 L172.70,448.67 L173.15,456.39 L173.60,452.94 L174.05,452.94 L174.50,450.54 L174.95,449.84 L175.40,451.31 L175.85,454.85 L176.30,452.20 L176.75,449.11 L177.20,455.06 L177.65,451.25 L178.10,450.36 L178.55,447.88 L179.00,448.78 L179.45,448.61 L179.90,440.93 L180.35,454.72 L180.80,453.18 L181.25,450.44 L181.70,455.04 L182.15,452.92 L182.60,452.75 L183.05,442.57 L183.50,450.71 L183.95,453.53 L184.40,457.49 L184.85,458.39 L185.30,456.99 L185.75,447.76 L186.20,444.14 L186.65,454.23 L187.10,452.44 L187.55,455.99 L188.00,452.26 L188.45,453.71 L188.90,447.72 L189.35,454.93 L189.80,451.90 L190.25,454.93 L190.70,455.46 L191.15,453.49 L191.60,455.12 L192.05,453.95 L192.50,456.68 L192.95,455.62 L193.40,451.65 L193.85,451.26 L194.30,459.40 L194.75,452.48 L195.20,456.16 L195.65,453.77 L196.10,450.14 L196.55,449.35 L197.00,452.43 L197.45,452.92 L197.90,454.21 L198.35,447.44 L198.80,449.86 L199.25,451.66 L199.70,457.76 L200.15,443.50" fill="none" stroke="#111" stroke-width="1.6" stroke-linejoin="round" stroke-linecap="round"/>
<path d="M40.20,548.44 L40.70,548.15 L41.20,547.94 L41.70,548.37 L42.20,547.87 L42.70,546.87 L43.20,546.92 L43.70,547.02 L44.20,546.83 L44.70,547.12 L45.20,547.82 L45.70,547.88 L46.20,547.90 L46.70,547.85 L47.20,548.18 L47.70,548.35 L48.20,548.65 L48.70,549.01 L49.20,548.22 L49.70,547.77 L50.20,547.42 L50.70,547.22 L51.20,546.58 L51.70,547.88 L52.20,548.23 L52.70,548.15 L53.20,548.13 L53.70,548.48 L54.20,547.87 L54.70,547.92 L55.20,547.96 L55.70,547.53 L56.20,547.44 L56.70,547.62 L57.20,547.17 L57.70,547.64 L58.20,547.73 L58.70,548.38 L59.20,548.65 L59.70,548.69 L60.20,548.37 L60.70,548.99 L61.20,548.45 L61.70,547.87 L62.20,548.15 L62.70,548.66 L63.20,547.92 L63.70,548.12 L64.20,548.44 L64.70,548.37 L65.20,547.71 L65.70,548.03 L66.20,548.16 L66.70,548.31 L67.20,548.06 L67.70,548.59 L68.20,548.32 L68.70,548.21 L69.20,548.09 L69.70,548.69 L70.20,548.35 L70.70,548.99 L71.20,548.79 L71.70,549.00 L72.20,548.76 L72.70,549.25 L73.20,548.76 L73.70,549.09 L74.20,548.94 L74.70,548.89 L75.20,548.13 L75.70,548.44 L76.20,547.70 L76.70,547.18 L77.20,547.32 L77.70,547.04 L78.20,547.31 L78.70,547.63 L79.20,548.07 L79.70,547.89 L80.20,548.42 L80.70,547.94 L81.20,547.91 L81.70,547.80 L82.20,548.06 L82.70,548.25 L83.20,548.67 L83.70,548.86 L84.20,548.83 L84.70,548.07 L85.20,547.92 L85.70,547.79 L86.20,547.57 L86.70,547.84 L87.20,548.65 L87.70,548.48 L88.20,548.53 L88.70,548.72 L89.20,548.00 L89.70,547.51 L90.20,547.35 L90.70,547.20 L91.20,546.86 L91.70,547.20 L92.20,547.05 L92.70,547.14 L93.20,547.00 L93.70,547.49 L94.20,547.82 L94.70,548.12 L95.20,548.18 L95.70,548.17 L96.20,547.92 L96.70,548.11 L97.20,547.36 L97.70,547.23 L98.20,547.27 L98.70,547.53 L99.20,546.78 L99.70,547.54 L100.20,547.81 L100.70,547.58 L101.20,546.72 L101.70,546.90 L102.20,546.46 L102.70,546.38 L103.20,546.24 L103.70,547.24 L104.20,547.35 L104.70,547.44 L105.20,547.09 L105.70,547.00 L106.20,546.60 L106.70,546.94 L107.20,547.08 L107.70,547.45 L108.20,547.46 L108.70,547.41 L109.20,547.61 L109.70,547.25 L110.20,547.31 L110.70,547.85 L111.20,547.20 L111.70,546.12 L112.20,546.17 L112.70,546.03 L113.20,545.51 L113.70,545.90 L114.20,546.41 L114.70,546.62 L115.20,546.32 L115.70,546.25 L116.20,546.51 L116.70,546.00 L117.20,546.32 L117.70,546.07 L118.20,545.83 L118.70,545.60 L119.20,545.84 L119.70,544.74 L120.20,544.80 L120.70,544.56 L121.20,544.07 L121.70,544.08 L122.20,544.32 L122.70,544.29 L123.20,544.50 L123.70,545.21 L124.20,544.93 L124.70,544.81 L125.20,544.39 L125.70,544.23 L126.20,543.74 L126.70,543.84 L127.20,544.57 L127.70,545.10 L128.20,545.60 L128.70,545.89 L129.20,546.12 L129.70,546.19 L130.20,546.62 L130.70,547.04 L131.20,547.02 L131.70,546.75 L132.20,546.57 L132.70,546.51 L133.20,545.62 L133.70,545.59 L134.20,546.11 L134.70,546.04 L135.20,545.49 L135.70,546.47 L136.20,546.77 L136.70,546.35 L137.20,546.64 L137.70,547.08 L138.20,546.07 L138.70,546.22 L139.20,545.85 L139.70,545.26 L140.20,544.48 L140.70,544.74 L141.20,543.61 L141.70,543.96 L142.20,544.61 L142.70,545.39 L143.20,545.84 L143.70,547.26 L144.20,547.71 L144.70,548.41 L145.20,549.00 L145.70,549.85 L146.20,550.10 L146.70,550.96 L147.20,551.15 L147.70,551.36 L148.20,551.31 L148.70,551.42 L149.20,551.22 L149.70,550.68 L150.20,550.38 L150.70,549.94 L151.20,549.34 L151.70,548.91 L152.20,548.70 L152.70,548.15 L153.20,547.76 L153.70,546.83 L154.20,545.43 L154.70,544.87 L155.20,544.12 L155.70,543.44 L156.20,543.14 L156.70,543.85 L157.20,543.38 L157.70,543.88 L158.20,544.13 L158.70,544.40 L159.20,544.21 L159.70,545.21 L160.20,545.86 L160.70,546.90 L161.20,548.48 L161.70,549.74 L162.20,550.45 L162.70,551.03 L163.20,551.53 L163.70,551.53 L164.20,551.72 L164.70,552.59 L165.20,552.36 L165.70,552.49 L166.20,552.64 L166.70,552.73 L167.20,551.61 L167.70,551.68 L168.20,551.02 L168.70,550.10 L169.20,549.52 L169.70,549.14 L170.20,548.53 L170.70,548.37 L171.20,547.95 L171.70,547.74 L172.20,547.44 L172.70,547.59 L173.20,547.43 L173.70,547.92 L174.20,547.76 L174.70,548.05 L175.20,548.10 L175.70,548.60 L176.20,549.26 L176.70,550.38 L177.20,551.03 L177.70,551.87 L178.20,551.96 L178.70,551.70 L179.20,551.68 L179.70,552.11 L180.20,552.06 L180.70,552.35 L181.20,553.34 L181.70,553.49 L182.20,553.21 L182.70,554.05 L183.20,554.14 L183.70,553.29 L184.20,552.96 L184.70,552.39 L185.20,551.33 L185.70,550.01 L186.20,548.95 L186.70,548.03 L187.20,547.47 L187.70,547.06 L188.20,546.91 L188.70,547.11 L189.20,547.31 L189.70,547.85 L190.20,547.95 L190.70,548.76 L191.20,549.87 L191.70,550.01 L192.20,550.26 L192.70,550.60 L193.20,550.81 L193.70,550.51 L194.20,550.89 L194.70,551.03 L195.20,550.83 L195.70,551.08 L196.20,551.01 L196.70,551.48 L197.20,551.40 L197.70,552.42 L198.20,553.18 L198.70,554.05 L199.20,554.03 L199.70,554.43 L200.20,554.31 L200.70,553.98 L201.20,553.90 L201.70,553.81 L202.20,554.28 L202.70,553.62 L203.20,553.33 L203.70,552.29 L204.20,551.81 L204.70,551.11 L205.20,550.63 L205.70,549.94 L206.20,550.15 L206.70,549.93 L207.20,549.89 L207.70,549.29 L208.20,549.65 L208.70,549.74 L209.20,549.56 L209.70,549.10 L210.20,550.22 L210.70,549.94 L211.20,549.80 L211.70,550.57 L212.20,551.02 L212.70,551.10 L213.20,551.34 L213.70,551.78 L214.20,552.09 L214.70,552.43 L215.20,551.85 L215.70,552.40 L216.20,552.44 L216.70,551.98 L217.20,552.33 L217.70,552.48 L218.20,552.74 L218.70,552.26 L219.20,552.49 L219.70,551.54 L220.20,551.03 L220.70,549.92 L221.20,549.62 L221.70,548.86 L222.20,548.84 L222.70,548.84 L223.20,548.95 L223.70,549.06 L224.20,548.84 L224.70,548.29 L225.20,548.28 L225.70,548.36 L226.20,548.39 L226.70,548.24 L227.20,548.14 L227.70,548.75 L228.20,548.13 L228.70,547.97 L229.20,547.98 L229.70,547.88 L230.20,547.59 L230.70,547.98 L231.20,548.34 L231.70,549.20 L232.20,549.65 L232.70,549.91 L233.20,550.26 L233.70,549.74 L234.20,548.89 L234.70,549.40 L235.20,549.03 L235.70,548.75 L236.20,548.83 L236.70,549.05 L237.20,548.45 L237.70,548.77 L238.20,549.13 L238.70,549.12 L239.20,548.79 L239.70,548.98 L240.20,548.38 L240.70,547.87 L241.20,548.31 L241.70,549.34 L242.20,549.44 L242.70,549.56 L243.20,549.96 L243.70,549.01 L244.20,548.19 L244.70,548.51 L245.20,549.02 L245.70,548.43 L246.20,548.60 L246.70,549.03 L247.20,548.61 L247.70,548.25 L248.20,548.74 L248.70,549.05 L249.20,548.29 L249.70,548.54 L250.20,548.53 L250.70,548.15 L251.20,547.94 L251.70,548.55 L252.20,548.11 L252.70,548.47 L253.20,548.67 L253.70,549.34 L254.20,549.17 L254.70,549.22 L255.20,548.52 L255.70,548.29 L256.20,548.20 L256.70,549.15 L257.20,548.99 L257.70,549.25 L258.20,549.65 L258.70,549.59 L259.20,548.57 L259.70,548.95 L260.20,548.79 L260.70,548.63 L261.20,548.75 L261.70,549.39 L262.20,549.33 L262.70,549.70 L263.20,549.91 L263.70,549.97 L264.20,549.66 L264.70,549.51 L265.20,549.68 L265.70,549.83 L266.20,549.34 L266.70,548.84 L267.20,549.19 L267.70,549.20 L268.20,549.21 L268.70,549.43 L269.20,549.63 L269.70,549.37 L270.20,548.99 L270.70,548.48 L271.20,548.30 L271.70,548.35 L272.20,548.78 L272.70,548.73 L273.20,548.99 L273.70,548.98 L274.20,549.53 L274.70,549.30 L275.20,549.54 L275.70,549.78 L276.20,549.97 L276.70,549.44 L277.20,549.79 L277.70,550.09 L278.20,550.35 L278.70,550.66 L279.20,551.00 L279.70,550.63 L280.20,550.14 L280.70,549.86 L281.20,549.57 L281.70,549.55 L282.20,549.52 L282.70,549.63 L283.20,549.17 L283.70,549.35 L284.20,549.52 L284.70,549.45 L285.20,549.77 L285.70,550.43 L286.20,550.02 L286.70,549.58 L287.20,549.36 L287.70,549.56 L288.20,549.26 L288.70,549.37 L289.20,549.01 L289.70,549.28 L290.20,549.23 L290.70,549.09 L291.20,549.10 L291.70,549.74 L292.20,549.46 L292.70,549.21 L293.20,549.46 L293.70,549.37 L294.20,548.97 L294.70,549.38 L295.20,549.35 L295.70,549.13 L296.20,549.41 L296.70,549.70 L297.20,549.39 L297.70,549.24 L298.20,549.43 L298.70,549.69 L299.20,550.01 L299.70,550.03 L300.20,550.52 L300.70,550.62 L301.20,550.31 L301.70,550.08 L302.20,550.54 L302.70,550.74 L303.20,550.25 L303.70,550.43 L304.20,550.27 L304.70,549.99 L305.20,549.82 L305.70,550.34 L306.20,549.91 L306.70,549.87 L307.20,550.00 L307.70,549.31 L308.20,549.33 L308.70,549.59 L309.20,549.72 L309.70,549.76 L310.20,550.64 L310.70,550.42 L311.20,550.35 L311.70,550.79 L312.20,550.57 L312.70,549.94 L313.20,549.56 L313.70,549.96 L314.20,549.56 L314.70,549.84 L315.20,550.03 L315.70,550.38 L316.20,549.88 L316.70,549.60 L317.20,549.60 L317.70,549.59 L318.20,550.08 L318.70,550.10 L319.20,550.18 L319.70,549.79 L320.20,550.14 L320.70,549.37 L321.20,549.79 L321.70,550.33 L322.20,550.57 L322.70,550.40 L323.20,550.17 L323.70,549.86 L324.20,549.02 L324.70,549.11 L325.20,548.92 L325.70,549.30 L326.20,549.67 L326.70,550.23 L327.20,550.05 L327.70,549.91 L328.20,549.73 L328.70,549.43 L329.20,549.92 L329.70,549.87 L330.20,550.14 L330.70,550.39 L331.20,550.67 L331.70,550.22 L332.20,550.36 L332.70,549.76 L333.20,549.78 L333.70,549.90 L334.20,549.72 L334.70,549.96 L335.20,550.32 L335.70,549.96 L336.20,549.76 L336.70,549.92 L337.20,549.60 L337.70,549.64 L338.20,550.23 L338.70,549.96 L339.20,549.98 L339.70,550.09 L340.20,549.55 L340.70,549.44 L341.20,549.45 L341.70,549.13 L342.20,549.31 L342.70,549.82 L343.20,550.02 L343.70,550.49 L344.20,550.76 L344.70,550.24 L345.20,550.18 L345.70,550.29 L346.20,549.93 L346.70,549.68 L347.20,550.08 L347.70,550.43 L348.20,550.26 L348.70,550.51 L349.20,550.51 L349.70,550.47 L350.20,550.27 L350.70,550.20 L351.20,549.46 L351.70,549.63 L352.20,549.35 L352.70,549.81 L353.20,550.24 L353.70,551.28 L354.20,551.57 L354.70,551.82 L355.20,551.71 L355.70,551.24 L356.20,550.95 L356.70,550.49 L357.20,550.47 L357.70,550.35 L358.20,550.89 L358.70,550.73 L359.20,551.60 L359.70,552.52 L360.20,552.05 L360.70,551.57 L361.20,551.32" fill="none" stroke="#111" stroke-width="2.8" stroke-linejoin="round" stroke-linecap="round"/>
<path d="M136.25,627.46 L136.75,627.61 L137.25,627.87 L137.75,627.91 L138.25,627.48 L138.75,628.08 L139.25,627.83 L139.75,626.77 L140.25,626.68 L140.75,627.13 L141.25,626.91 L141.75,627.26 L142.25,628.07 L142.75,628.15 L143.25,627.57 L143.75,627.23 L144.25,626.99 L144.75,627.01 L145.25,626.75 L145.75,627.05 L146.25,627.41 L146.75,626.94 L147.25,626.35 L147.75,626.53 L148.25,626.72 L148.75,626.51 L149.25,626.42 L149.75,626.86 L150.25,626.61 L150.75,626.70 L151.25,626.78 L151.75,627.36 L152.25,627.49 L152.75,627.67 L153.25,627.71 L153.75,628.01 L154.25,628.04 L154.75,628.19 L155.25,628.16 L155.75,628.18 L156.25,627.96 L156.75,627.65 L157.25,627.33 L157.75,627.35 L158.25,627.02 L158.75,626.98 L159.25,627.44 L159.75,627.38 L160.25,627.53 L160.75,627.32 L161.25,627.32 L161.75,627.34 L162.25,627.59 L162.75,627.67 L163.25,627.88 L163.75,627.63 L164.25,627.35 L164.75,626.86 L165.25,626.48 L165.75,626.81 L166.25,626.82 L166.75,627.24 L167.25,627.21 L167.75,627.58 L168.25,627.11 L168.75,627.35 L169.25,626.71 L169.75,627.04 L170.25,626.90 L170.75,627.06 L171.25,627.13 L171.75,627.70 L172.25,627.56 L172.75,627.78 L173.25,627.90 L173.75,627.77 L174.25,627.92 L174.75,627.56 L175.25,627.20 L175.75,626.77 L176.25,626.70 L176.75,626.14 L177.25,627.47 L177.75,627.69 L178.25,628.49 L178.75,628.84 L179.25,628.78 L179.75,628.02 L180.25,628.30 L180.75,627.92 L181.25,627.66 L181.75,627.85 L182.25,627.39 L182.75,626.81 L183.25,626.82 L183.75,626.88 L184.25,626.53 L184.75,626.77 L185.25,626.90 L185.75,626.76 L186.25,626.76 L186.75,626.96 L187.25,627.04 L187.75,626.67 L188.25,626.66 L188.75,626.44 L189.25,626.15 L189.75,625.79 L190.25,625.37 L190.75,624.90 L191.25,624.37 L191.75,623.78 L192.25,623.02 L192.75,621.72 L193.25,620.00 L193.75,617.94 L194.25,615.69 L194.75,613.34 L195.25,610.42 L195.75,606.41 L196.25,601.79 L196.75,597.05 L197.25,592.66 L197.75,589.11 L198.25,586.90 L198.75,586.57 L199.25,589.21 L199.75,594.00 L200.25,600.04 L200.75,612.41 L201.25,629.64 L201.75,647.52 L202.25,661.82 L202.75,668.34 L203.25,667.31 L203.75,664.13 L204.25,659.81 L204.75,655.31 L205.25,651.59 L205.75,648.72 L206.25,645.85 L206.75,643.13 L207.25,640.75 L207.75,638.85 L208.25,637.57 L208.75,636.53 L209.25,635.56 L209.75,634.67 L210.25,633.85 L210.75,633.11 L211.25,632.45 L211.75,631.87 L212.25,631.37 L212.75,630.95 L213.25,630.61 L213.75,630.36 L214.25,630.17 L214.75,630.00 L215.25,629.57 L215.75,630.01 L216.25,629.49 L216.75,629.96 L217.25,629.72 L217.75,629.49 L218.25,629.11 L218.75,629.21 L219.25,628.43 L219.75,628.64 L220.25,628.89 L220.75,628.46 L221.25,628.31 L221.75,628.72 L222.25,628.42 L222.75,628.12 L223.25,628.09 L223.75,627.96 L224.25,627.59 L224.75,627.68 L225.25,627.47 L225.75,627.63 L226.25,627.66 L226.75,627.71 L227.25,627.90 L227.75,628.67 L228.25,628.94 L228.75,628.64 L229.25,629.15 L229.75,629.00 L230.25,628.54 L230.75,628.10 L231.25,628.40 L231.75,628.42 L232.25,628.48 L232.75,628.39 L233.25,628.37 L233.75,628.27 L234.25,628.08 L234.75,628.37 L235.25,628.22 L235.75,628.36 L236.25,628.36 L236.75,628.06 L237.25,627.72 L237.75,628.07 L238.25,627.75 L238.75,627.60 L239.25,628.03 L239.75,628.01 L240.25,627.99 L240.75,628.19 L241.25,628.34 L241.75,628.16 L242.25,627.98 L242.75,627.61 L243.25,627.71 L243.75,628.00 L244.25,627.66 L244.75,628.00 L245.25,628.41 L245.75,628.21 L246.25,628.00 L246.75,628.22 L247.25,628.12 L247.75,628.11 L248.25,628.01 L248.75,627.70 L249.25,627.94 L249.75,627.82 L250.25,627.76 L250.75,628.12 L251.25,628.77 L251.75,628.26 L252.25,628.48 L252.75,628.20 L253.25,628.29 L253.75,628.24 L254.25,628.20 L254.75,628.04 L255.25,628.16 L255.75,627.93 L256.25,627.64 L256.75,627.71 L257.25,627.41 L257.75,627.61 L258.25,627.87 L258.75,627.73 L259.25,627.64 L259.75,628.37 L260.25,628.47 L260.75,628.36 L261.25,628.25 L261.75,628.45 L262.25,627.98 L262.75,627.52 L263.25,627.80 L263.75,628.06 L264.25,628.28 L264.75,627.99 L265.25,628.01 L265.75,627.47 L266.25,627.50" fill="none" stroke="#e3101f" stroke-width="2.8" stroke-linejoin="round" stroke-linecap="round"/>
<path d="M136.25,694.67 L136.75,694.43 L137.25,694.39 L137.75,694.34 L138.25,694.61 L138.75,694.76 L139.25,694.90 L139.75,695.24 L140.25,695.23 L140.75,694.97 L141.25,694.95 L141.75,694.53 L142.25,694.36 L142.75,694.06 L143.25,694.06 L143.75,693.74 L144.25,693.74 L144.75,693.87 L145.25,694.10 L145.75,694.11 L146.25,694.20 L146.75,694.30 L147.25,694.47 L147.75,694.52 L148.25,694.64 L148.75,694.43 L149.25,694.49 L149.75,694.14 L150.25,694.18 L150.75,694.03 L151.25,694.32 L151.75,694.73 L152.25,694.77 L152.75,694.81 L153.25,694.85 L153.75,695.33 L154.25,695.34 L154.75,695.48 L155.25,695.65 L155.75,695.59 L156.25,695.06 L156.75,694.78 L157.25,694.69 L157.75,694.38 L158.25,694.37 L158.75,694.50 L159.25,694.52 L159.75,694.08 L160.25,694.27 L160.75,694.68 L161.25,694.45 L161.75,694.44 L162.25,694.57 L162.75,694.72 L163.25,694.24 L163.75,694.12 L164.25,694.01 L164.75,694.77 L165.25,694.48 L165.75,694.45 L166.25,694.80 L166.75,694.91 L167.25,694.76 L167.75,694.63 L168.25,694.57 L168.75,694.41 L169.25,694.44 L169.75,694.18 L170.25,694.65 L170.75,694.67 L171.25,694.57 L171.75,694.46 L172.25,694.56 L172.75,694.43 L173.25,694.64 L173.75,694.60 L174.25,694.79 L174.75,694.81 L175.25,695.25 L175.75,695.29 L176.25,695.81 L176.75,695.38 L177.25,695.07 L177.75,694.38 L178.25,694.31 L178.75,693.80 L179.25,693.92 L179.75,694.00 L180.25,694.03 L180.75,694.24 L181.25,694.38 L181.75,694.47 L182.25,694.75 L182.75,694.88 L183.25,694.76 L183.75,694.75 L184.25,694.74 L184.75,694.53 L185.25,694.28 L185.75,694.45 L186.25,694.74 L186.75,694.92 L187.25,694.68 L187.75,694.46 L188.25,694.04 L188.75,693.90 L189.25,693.72 L189.75,693.50 L190.25,693.24 L190.75,692.95 L191.25,692.62 L191.75,692.26 L192.25,691.86 L192.75,691.43 L193.25,690.88 L193.75,689.96 L194.25,688.76 L194.75,687.37 L195.25,685.91 L195.75,684.45 L196.25,682.62 L196.75,680.38 L197.25,678.08 L197.75,676.10 L198.25,674.80 L198.75,674.59 L199.25,675.96 L199.75,678.58 L200.25,681.93 L200.75,686.17 L201.25,694.21 L201.75,703.86 L202.25,712.14 L202.75,716.06 L203.25,715.28 L203.75,712.93 L204.25,709.85 L204.75,706.85 L205.25,704.73 L205.75,703.53 L206.25,702.42 L206.75,701.42 L207.25,700.54 L207.75,699.79 L208.25,699.18 L208.75,698.72 L209.25,698.42 L209.75,698.18 L210.25,697.95 L210.75,697.74 L211.25,697.54 L211.75,697.36 L212.25,697.20 L212.75,697.06 L213.25,696.93 L213.75,696.83 L214.25,696.74 L214.75,696.67 L215.25,697.21 L215.75,696.86 L216.25,696.15 L216.75,695.82 L217.25,695.84 L217.75,695.73 L218.25,695.93 L218.75,696.31 L219.25,696.12 L219.75,696.23 L220.25,696.61 L220.75,696.75 L221.25,696.67 L221.75,696.92 L222.25,696.78 L222.75,696.63 L223.25,696.40 L223.75,696.50 L224.25,696.47 L224.75,696.45 L225.25,696.67 L225.75,696.55 L226.25,696.57 L226.75,696.44 L227.25,696.47 L227.75,695.97 L228.25,696.13 L228.75,695.89 L229.25,695.69 L229.75,695.97 L230.25,695.91 L230.75,695.96 L231.25,695.96 L231.75,695.72 L232.25,695.66 L232.75,695.68 L233.25,695.18 L233.75,695.05 L234.25,695.37 L234.75,695.49 L235.25,695.63 L235.75,696.42 L236.25,696.83 L236.75,697.09 L237.25,697.17 L237.75,697.33 L238.25,696.92 L238.75,696.75 L239.25,696.72 L239.75,696.50 L240.25,696.38 L240.75,696.17 L241.25,696.17 L241.75,696.05 L242.25,695.73 L242.75,695.80 L243.25,696.25 L243.75,696.09 L244.25,696.17 L244.75,696.58 L245.25,696.26 L245.75,696.06 L246.25,696.17 L246.75,696.20 L247.25,696.32 L247.75,696.23 L248.25,696.28 L248.75,696.32 L249.25,696.38 L249.75,696.43 L250.25,696.63 L250.75,696.56 L251.25,696.21 L251.75,696.12 L252.25,695.52 L252.75,695.94 L253.25,696.20 L253.75,696.51 L254.25,695.91 L254.75,696.04 L255.25,695.95 L255.75,695.47 L256.25,695.33 L256.75,695.74 L257.25,696.05 L257.75,695.96 L258.25,696.30 L258.75,696.26 L259.25,696.28 L259.75,696.07 L260.25,696.16 L260.75,696.07 L261.25,696.36 L261.75,696.02 L262.25,696.29 L262.75,696.11 L263.25,696.37 L263.75,696.18 L264.25,696.69 L264.75,696.75 L265.25,696.67 L265.75,696.46 L266.25,696.41" fill="none" stroke="#1f2fd8" stroke-width="2.8" stroke-linejoin="round" stroke-linecap="round"/>
<line x1="217.30" y1="620.40" x2="259.20" y2="611.70" stroke="#000" stroke-width="2.1"/>
<path d="M251,609.1 L260,611.6 L252.6,618.4" fill="none" stroke="#000" stroke-width="2.1"/>
<text transform="translate(214.62,453.50) scale(1.0539,1)" fill="#000" xml:space="preserve"><tspan font-size="21.80" font-weight="bold">benzylamine</tspan></text>
<text transform="translate(214.74,481.00) scale(1.0583,1)" fill="#000" xml:space="preserve"><tspan font-size="21.80" font-weight="bold">neutral radical species</tspan></text>
<text transform="translate(72.43,539.40) scale(1.0740,1)" fill="#000" xml:space="preserve"><tspan font-size="21.80" font-weight="bold">after illumination + benzylamine</tspan></text>
<text transform="translate(148.12,583.00) scale(1.0732,1)" fill="#000" xml:space="preserve"><tspan font-size="21.80" font-weight="bold">under illumination, 1 min</tspan></text>
<text transform="translate(278.28,624.10) scale(1.0536,1)" fill="#000" xml:space="preserve"><tspan font-size="21.90" font-weight="bold">g=2.0035</tspan></text>
<text transform="translate(205.19,691.60) scale(1.0738,1)" fill="#000" xml:space="preserve"><tspan font-size="21.80" font-weight="bold">before illumination</tspan></text>
<text transform="translate(112.64,776.80) scale(0.9623,1)" fill="#000" xml:space="preserve"><tspan font-size="24.30" font-weight="bold">Magnetic field (mT)</tspan></text>
<rect x="544.6" y="415.5" width="418.79999999999995" height="313.4" fill="none" stroke="#000" stroke-width="2.5"/>
<line x1="544.06" y1="728.90" x2="544.06" y2="732.40" stroke="#000" stroke-width="2.2"/>
<line x1="568.72" y1="728.90" x2="568.72" y2="734.40" stroke="#000" stroke-width="2.2"/>
<line x1="593.38" y1="728.90" x2="593.38" y2="732.40" stroke="#000" stroke-width="2.2"/>
<line x1="618.04" y1="728.90" x2="618.04" y2="734.40" stroke="#000" stroke-width="2.2"/>
<line x1="642.70" y1="728.90" x2="642.70" y2="732.40" stroke="#000" stroke-width="2.2"/>
<line x1="667.36" y1="728.90" x2="667.36" y2="734.40" stroke="#000" stroke-width="2.2"/>
<line x1="692.02" y1="728.90" x2="692.02" y2="732.40" stroke="#000" stroke-width="2.2"/>
<line x1="716.68" y1="728.90" x2="716.68" y2="734.40" stroke="#000" stroke-width="2.2"/>
<line x1="741.34" y1="728.90" x2="741.34" y2="732.40" stroke="#000" stroke-width="2.2"/>
<line x1="766.00" y1="728.90" x2="766.00" y2="734.40" stroke="#000" stroke-width="2.2"/>
<line x1="790.66" y1="728.90" x2="790.66" y2="732.40" stroke="#000" stroke-width="2.2"/>
<line x1="815.32" y1="728.90" x2="815.32" y2="734.40" stroke="#000" stroke-width="2.2"/>
<line x1="839.98" y1="728.90" x2="839.98" y2="732.40" stroke="#000" stroke-width="2.2"/>
<line x1="864.64" y1="728.90" x2="864.64" y2="734.40" stroke="#000" stroke-width="2.2"/>
<line x1="889.30" y1="728.90" x2="889.30" y2="732.40" stroke="#000" stroke-width="2.2"/>
<line x1="913.96" y1="728.90" x2="913.96" y2="734.40" stroke="#000" stroke-width="2.2"/>
<line x1="938.62" y1="728.90" x2="938.62" y2="732.40" stroke="#000" stroke-width="2.2"/>
<line x1="963.28" y1="728.90" x2="963.28" y2="734.40" stroke="#000" stroke-width="2.2"/>
<line x1="544.60" y1="728.62" x2="541.10" y2="728.62" stroke="#000" stroke-width="2.2"/>
<line x1="544.60" y1="707.75" x2="539.10" y2="707.75" stroke="#000" stroke-width="2.2"/>
<line x1="544.60" y1="686.88" x2="541.10" y2="686.88" stroke="#000" stroke-width="2.2"/>
<line x1="544.60" y1="666.00" x2="539.10" y2="666.00" stroke="#000" stroke-width="2.2"/>
<line x1="544.60" y1="645.12" x2="541.10" y2="645.12" stroke="#000" stroke-width="2.2"/>
<line x1="544.60" y1="624.25" x2="539.10" y2="624.25" stroke="#000" stroke-width="2.2"/>
<line x1="544.60" y1="603.38" x2="541.10" y2="603.38" stroke="#000" stroke-width="2.2"/>
<line x1="544.60" y1="582.50" x2="539.10" y2="582.50" stroke="#000" stroke-width="2.2"/>
<line x1="544.60" y1="561.62" x2="541.10" y2="561.62" stroke="#000" stroke-width="2.2"/>
<line x1="544.60" y1="540.75" x2="539.10" y2="540.75" stroke="#000" stroke-width="2.2"/>
<line x1="544.60" y1="519.88" x2="541.10" y2="519.88" stroke="#000" stroke-width="2.2"/>
<line x1="544.60" y1="499.00" x2="539.10" y2="499.00" stroke="#000" stroke-width="2.2"/>
<line x1="544.60" y1="478.12" x2="541.10" y2="478.12" stroke="#000" stroke-width="2.2"/>
<line x1="544.60" y1="457.25" x2="539.10" y2="457.25" stroke="#000" stroke-width="2.2"/>
<line x1="544.60" y1="436.37" x2="541.10" y2="436.37" stroke="#000" stroke-width="2.2"/>
<line x1="544.60" y1="415.50" x2="539.10" y2="415.50" stroke="#000" stroke-width="2.2"/>
<text transform="translate(509.07,713.05) scale(0.9350,1)" fill="#000" xml:space="preserve"><tspan font-size="20.00" font-weight="bold">0.7</tspan></text>
<text transform="translate(508.84,671.30) scale(0.9350,1)" fill="#000" xml:space="preserve"><tspan font-size="20.00" font-weight="bold">0.8</tspan></text>
<text transform="translate(508.96,629.55) scale(0.9350,1)" fill="#000" xml:space="preserve"><tspan font-size="20.00" font-weight="bold">0.9</tspan></text>
<text transform="translate(509.07,587.80) scale(0.9350,1)" fill="#000" xml:space="preserve"><tspan font-size="20.00" font-weight="bold">1.0</tspan></text>
<text transform="translate(508.72,546.05) scale(0.9350,1)" fill="#000" xml:space="preserve"><tspan font-size="20.00" font-weight="bold">1.1</tspan></text>
<text transform="translate(508.96,504.30) scale(0.9350,1)" fill="#000" xml:space="preserve"><tspan font-size="20.00" font-weight="bold">1.2</tspan></text>
<text transform="translate(508.96,462.55) scale(0.9350,1)" fill="#000" xml:space="preserve"><tspan font-size="20.00" font-weight="bold">1.3</tspan></text>
<text transform="translate(508.37,420.80) scale(0.9350,1)" fill="#000" xml:space="preserve"><tspan font-size="20.00" font-weight="bold">1.4</tspan></text>
<text transform="translate(552.83,752.90) scale(0.9350,1)" fill="#000" xml:space="preserve"><tspan font-size="20.00" font-weight="bold">-0.8</tspan></text>
<text transform="translate(602.21,752.90) scale(0.9350,1)" fill="#000" xml:space="preserve"><tspan font-size="20.00" font-weight="bold">-0.6</tspan></text>
<text transform="translate(651.24,752.90) scale(0.9350,1)" fill="#000" xml:space="preserve"><tspan font-size="20.00" font-weight="bold">-0.4</tspan></text>
<text transform="translate(700.85,752.90) scale(0.9350,1)" fill="#000" xml:space="preserve"><tspan font-size="20.00" font-weight="bold">-0.2</tspan></text>
<text transform="translate(753.39,752.90) scale(0.9350,1)" fill="#000" xml:space="preserve"><tspan font-size="20.00" font-weight="bold">0.0</tspan></text>
<text transform="translate(802.65,752.90) scale(0.9350,1)" fill="#000" xml:space="preserve"><tspan font-size="20.00" font-weight="bold">0.2</tspan></text>
<text transform="translate(851.67,752.90) scale(0.9350,1)" fill="#000" xml:space="preserve"><tspan font-size="20.00" font-weight="bold">0.4</tspan></text>
<text transform="translate(901.29,752.90) scale(0.9350,1)" fill="#000" xml:space="preserve"><tspan font-size="20.00" font-weight="bold">0.6</tspan></text>
<text transform="translate(950.55,752.90) scale(0.9350,1)" fill="#000" xml:space="preserve"><tspan font-size="20.00" font-weight="bold">0.8</tspan></text>
<line x1="573.80" y1="429.30" x2="917.20" y2="694.00" stroke="#e3101f" stroke-width="2.5"/>
<rect x="570.70" y="432.70" width="6.4" height="6.4" fill="#000"/>
<rect x="686.50" y="500.60" width="6.4" height="6.4" fill="#000"/>
<rect x="745.80" y="554.60" width="6.4" height="6.4" fill="#000"/>
<rect x="762.90" y="579.00" width="6.4" height="6.4" fill="#000"/>
<rect x="790.20" y="611.30" width="6.4" height="6.4" fill="#000"/>
<rect x="913.40" y="685.90" width="6.4" height="6.4" fill="#000"/>
<text transform="translate(588.48,435.80) scale(0.9576,1)" fill="#000" xml:space="preserve"><tspan font-size="23.50" font-weight="bold" font-style="italic">p</tspan><tspan font-size="23.50" font-weight="bold">-OCH</tspan><tspan font-size="17.00" font-weight="bold" dy="3.80">3</tspan></text>
<text transform="translate(702.48,510.70) scale(0.9679,1)" fill="#000" xml:space="preserve"><tspan font-size="23.50" font-weight="bold" font-style="italic">p</tspan><tspan font-size="23.50" font-weight="bold">-CH</tspan><tspan font-size="17.00" font-weight="bold" dy="3.80">3</tspan></text>
<text transform="translate(764.47,561.70) scale(0.9495,1)" fill="#000" xml:space="preserve"><tspan font-size="23.50" font-weight="bold" font-style="italic">p</tspan><tspan font-size="23.50" font-weight="bold">-F</tspan></text>
<text transform="translate(729.98,605.70) scale(0.9632,1)" fill="#000" xml:space="preserve"><tspan font-size="23.50" font-weight="bold" font-style="italic">p</tspan><tspan font-size="23.50" font-weight="bold">-H</tspan></text>
<text transform="translate(773.27,644.10) scale(0.9483,1)" fill="#000" xml:space="preserve"><tspan font-size="23.50" font-weight="bold" font-style="italic">p</tspan><tspan font-size="23.50" font-weight="bold">-Cl</tspan></text>
<text transform="translate(900.49,675.40) scale(0.9750,1)" fill="#000" xml:space="preserve"><tspan font-size="23.50" font-weight="bold" font-style="italic">p</tspan><tspan font-size="23.50" font-weight="bold">-CF</tspan><tspan font-size="17.00" font-weight="bold" dy="3.80">3</tspan></text>
<text transform="translate(832.57,479.10) scale(0.9563,1)" fill="#000" xml:space="preserve"><tspan font-size="23.50" font-weight="normal">ρ</tspan><tspan font-size="23.50" font-weight="bold"> = -0.45</tspan></text>
<text transform="translate(832.92,510.60) scale(0.9696,1)" fill="#000" xml:space="preserve"><tspan font-size="23.50" font-weight="bold">R</tspan><tspan font-size="16.00" font-weight="bold" dy="-9.00">2</tspan><tspan font-size="23.50" font-weight="bold" dy="9.00"> = 0.98</tspan></text>
<text transform="translate(499.0,632.04) rotate(-90) scale(1.0062,1)" xml:space="preserve"><tspan font-size="24" font-weight="bold" dy="0">log(K</tspan><tspan font-size="19" font-weight="bold" dy="6.0">X</tspan><tspan font-size="24" font-weight="bold" dy="-6.0">/K</tspan><tspan font-size="19" font-weight="bold" dy="6.0">H</tspan><tspan font-size="24" font-weight="bold" dy="-6.0">)</tspan></text>
<text transform="translate(738.53,775.00) scale(1.0652,1)" fill="#000" xml:space="preserve"><tspan font-size="22.50" font-weight="normal">σ</tspan><tspan font-size="16.50" font-weight="bold" dy="5.00">p</tspan></text>
<text transform="translate(762.44,767.00) scale(1.1412,1)" fill="#000" xml:space="preserve"><tspan font-size="17.00" font-weight="bold">+</tspan></text>
</svg>
</body></html>
